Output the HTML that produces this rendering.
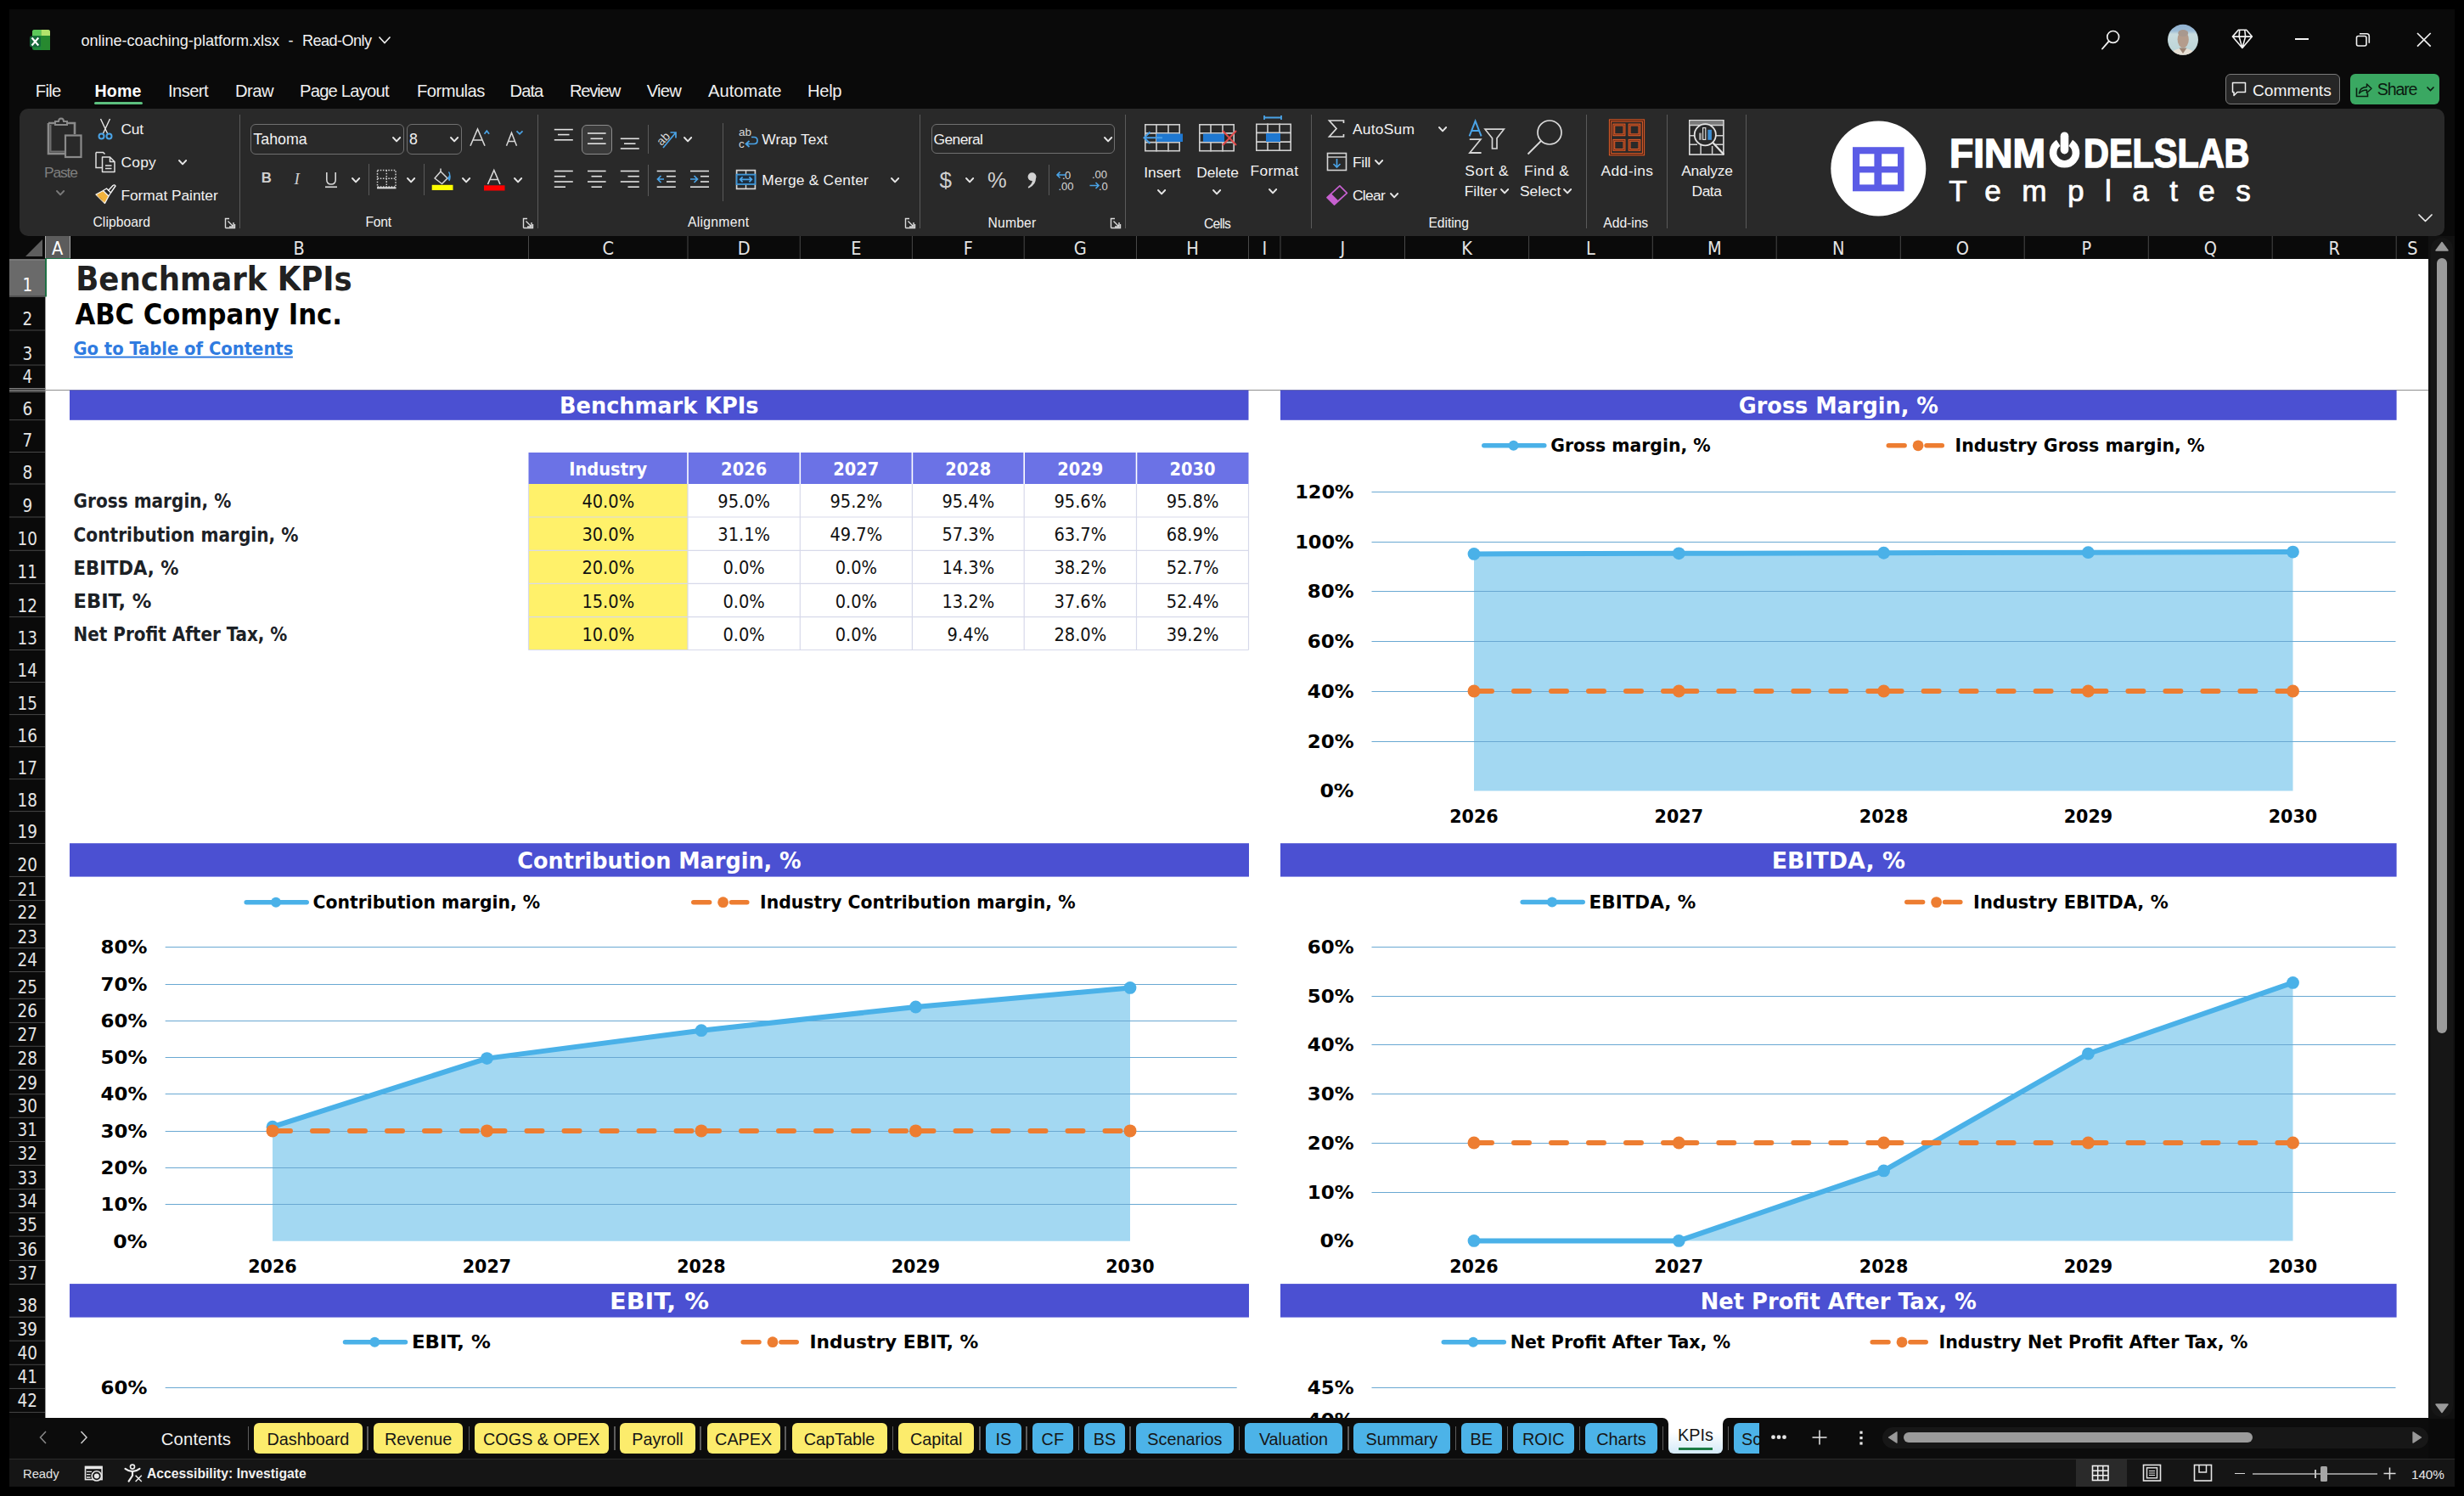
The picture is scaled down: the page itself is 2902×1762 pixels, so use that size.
<!DOCTYPE html>
<html><head><meta charset="utf-8"><title>online-coaching-platform.xlsx - Excel</title>
<style>
*{margin:0;padding:0;box-sizing:border-box}
html,body{width:2902px;height:1762px;overflow:hidden;background:#000}
.b{position:absolute;display:block}
.t{position:absolute;white-space:nowrap;line-height:1}
.t span{display:inline-block;line-height:1}
.t.c span{transform:translateX(-50%)}
.t.r span{transform:translateX(-100%)}
</style></head>
<body>
<div class="b" style="left:11px;top:11px;width:2880px;height:1740px;background:#0a0a0a;"></div><svg class="b" style="left:33px;top:33px;" width="28" height="28" viewBox="0 0 28 28">
<rect x="5" y="2" width="21" height="24" rx="2.5" fill="#1f8a3b"/>
<path d="M5 9 V4.5 Q5 2 7.5 2 H15.5 V9 Z" fill="#5cc85a"/>
<path d="M15.5 2 H23.5 Q26 2 26 4.5 V9 H15.5 Z" fill="#b4e36b"/>
<rect x="15.5" y="9" width="10.5" height="17" fill="#27892f"/>
<rect x="2" y="9.5" width="13" height="13" rx="2.2" fill="#16693a"/>
<path d="M5.2 12.3 L11.6 19.7 M11.6 12.3 L5.2 19.7" stroke="#fff" stroke-width="2.1" stroke-linecap="square"/>
</svg><div class="t" style="left:95.4px;top:38.61px;font-family:'Liberation Sans', Arial, sans-serif;font-size:18.1px;font-weight:normal;color:#f2f2f2;letter-spacing:-0.02px;"><span>online-coaching-platform.xlsx</span></div><div class="t" style="left:339.5px;top:38.61px;font-family:'Liberation Sans', Arial, sans-serif;font-size:18.1px;font-weight:normal;color:#f2f2f2;"><span>-</span></div><div class="t" style="left:356.0px;top:38.61px;font-family:'Liberation Sans', Arial, sans-serif;font-size:18.1px;font-weight:normal;color:#f2f2f2;letter-spacing:-0.56px;"><span>Read-Only</span></div><svg class="b" style="left:444px;top:40px;" width="18" height="15" viewBox="0 0 18 15"><polyline points="2.5,3.5 9,10.5 15.5,3.5" fill="none" stroke="#f0f0f0" stroke-width="1.6"/></svg><svg class="b" style="left:2470px;top:30px;" width="30" height="32" viewBox="0 0 30 32"><circle cx="18.7" cy="13.4" r="6.9" fill="none" stroke="#f0f0f0" stroke-width="1.7"/>
<line x1="13.7" y1="18.6" x2="6" y2="27.5" stroke="#f0f0f0" stroke-width="1.9" stroke-linecap="round"/></svg><svg class="b" style="left:2552px;top:28px;" width="38" height="38" viewBox="0 0 38 38"><defs><clipPath id="av"><circle cx="19" cy="18.8" r="18"/></clipPath>
<linearGradient id="avbg" x1="0" y1="0" x2="0" y2="1"><stop offset="0" stop-color="#8fb0d0"/><stop offset="0.22" stop-color="#9dbcd6"/><stop offset="0.32" stop-color="#c9dcdf"/><stop offset="1" stop-color="#b9d3d6"/></linearGradient></defs>
<g clip-path="url(#av)"><rect width="38" height="38" fill="url(#avbg)"/>
<ellipse cx="19.2" cy="18.5" rx="6.6" ry="10" fill="#b49c8c"/>
<ellipse cx="19.2" cy="11" rx="6" ry="4" fill="#a8988e"/>
<path d="M3 40 Q5 29 19 29 Q33 29 35 40 Z" fill="#e6dfd4"/>
<path d="M14.5 28.5 L19 35 L23.5 28.5 Z" fill="#9c8474"/></g></svg><svg class="b" style="left:2625px;top:30px;" width="32" height="32" viewBox="0 0 32 32"><path d="M11.3 5.3 H20.7 L27.4 13.1 L15.9 26.5 L4.4 13.1 Z M4.4 13.1 H27.4 M12.7 5.3 L12.1 13.1 L15.9 26.5 L19.6 13.1 L18.8 5.3" fill="none" stroke="#f4f4f4" stroke-width="1.6" stroke-linejoin="round"/></svg><div class="b" style="left:2703px;top:45.3px;width:15.8px;height:1.9px;background:#f4f4f4;"></div><svg class="b" style="left:2772px;top:36px;" width="22" height="22" viewBox="0 0 22 22"><rect x="3.5" y="6.5" width="11.5" height="11.5" rx="2" fill="none" stroke="#f0f0f0" stroke-width="1.6"/>
<path d="M7 3.8 H15.5 Q18.3 3.8 18.3 6.6 V14.8" fill="none" stroke="#f0f0f0" stroke-width="1.6"/></svg><svg class="b" style="left:2844px;top:36px;" width="22" height="22" viewBox="0 0 22 22"><path d="M3 3 L18.7 18.7 M18.7 3 L3 18.7" stroke="#f0f0f0" stroke-width="1.7"/></svg><div class="t" style="left:41.8px;top:97.43px;font-family:'Liberation Sans', Arial, sans-serif;font-size:20.2px;font-weight:normal;color:#f0f0f0;letter-spacing:-0.71px;"><span>File</span></div><div class="t" style="left:111.6px;top:97.94px;font-family:'Liberation Sans', Arial, sans-serif;font-size:19.6px;font-weight:bold;color:#ffffff;letter-spacing:0.10px;"><span>Home</span></div><div class="t" style="left:198.0px;top:97.43px;font-family:'Liberation Sans', Arial, sans-serif;font-size:20.2px;font-weight:normal;color:#f0f0f0;letter-spacing:-0.60px;"><span>Insert</span></div><div class="t" style="left:277.0px;top:97.43px;font-family:'Liberation Sans', Arial, sans-serif;font-size:20.2px;font-weight:normal;color:#f0f0f0;letter-spacing:-0.52px;"><span>Draw</span></div><div class="t" style="left:353.0px;top:97.43px;font-family:'Liberation Sans', Arial, sans-serif;font-size:20.2px;font-weight:normal;color:#f0f0f0;letter-spacing:-0.78px;"><span>Page Layout</span></div><div class="t" style="left:491.0px;top:97.43px;font-family:'Liberation Sans', Arial, sans-serif;font-size:20.2px;font-weight:normal;color:#f0f0f0;letter-spacing:-0.55px;"><span>Formulas</span></div><div class="t" style="left:600.6px;top:97.43px;font-family:'Liberation Sans', Arial, sans-serif;font-size:20.2px;font-weight:normal;color:#f0f0f0;letter-spacing:-0.97px;"><span>Data</span></div><div class="t" style="left:670.9px;top:97.43px;font-family:'Liberation Sans', Arial, sans-serif;font-size:20.2px;font-weight:normal;color:#f0f0f0;letter-spacing:-1.17px;"><span>Review</span></div><div class="t" style="left:761.8px;top:97.43px;font-family:'Liberation Sans', Arial, sans-serif;font-size:20.2px;font-weight:normal;color:#f0f0f0;letter-spacing:-0.81px;"><span>View</span></div><div class="t" style="left:834.0px;top:97.43px;font-family:'Liberation Sans', Arial, sans-serif;font-size:20.2px;font-weight:normal;color:#f0f0f0;letter-spacing:0.01px;"><span>Automate</span></div><div class="t" style="left:951.0px;top:97.43px;font-family:'Liberation Sans', Arial, sans-serif;font-size:20.2px;font-weight:normal;color:#f0f0f0;letter-spacing:-0.34px;"><span>Help</span></div><div class="b" style="left:110.8px;top:120px;width:57.6px;height:3.4px;background:#5cc07f;border-radius:2px"></div><div class="b" style="left:2621.4px;top:87px;width:134.3px;height:36px;background:#262626;border:1.3px solid #7a7a7a;border-radius:6px"></div><svg class="b" style="left:2626px;top:94px;" width="22" height="22" viewBox="0 0 22 22"><path d="M3.5 3.5 H18.5 V14.5 H9 L5 18.5 V14.5 H3.5 Z" fill="none" stroke="#f0f0f0" stroke-width="1.5" stroke-linejoin="round"/></svg><div class="t" style="left:2653.0px;top:96.78px;font-family:'Liberation Sans', Arial, sans-serif;font-size:19.2px;font-weight:normal;color:#f4f4f4;letter-spacing:-0.00px;"><span>Comments</span></div><div class="b" style="left:2768px;top:87px;width:105px;height:36px;background:#3aa862;border-radius:6px"></div><svg class="b" style="left:2772px;top:94px;" width="24" height="24" viewBox="0 0 24 24"><path d="M3.5 9.5 V19.5 H16.5 V16" fill="none" stroke="#0c1f12" stroke-width="1.6"/>
<path d="M6.5 16 Q7.5 8.5 15.5 8.5 V5 L21 10.3 L15.5 15.5 V12 Q10 12 6.5 16 Z" fill="none" stroke="#0c1f12" stroke-width="1.5" stroke-linejoin="round"/></svg><div class="t" style="left:2799.8px;top:96.44px;font-family:'Liberation Sans', Arial, sans-serif;font-size:19.6px;font-weight:normal;color:#0b1a10;letter-spacing:-1.16px;"><span>Share</span></div><svg class="b" style="left:2856px;top:100px;" width="14" height="10" viewBox="0 0 14 10"><polyline points="2.5,2.5 6.5,6.5 10.5,2.5" fill="none" stroke="#0b1a10" stroke-width="1.6"/></svg><div class="b" style="left:23px;top:128px;width:2856px;height:150px;background:#292929;border-radius:10px"></div><svg class="b" style="left:50px;top:136px;" width="52" height="56" viewBox="0 0 52 56">
<path d="M7 9 H14 M30 9 H38 V22" fill="none" stroke="#8a8a8a" stroke-width="2.6"/>
<path d="M7 9 V45 H26" fill="none" stroke="#8a8a8a" stroke-width="2.6"/>
<path d="M9.5 11 V42.5 H26" fill="none" stroke="#6e6e6e" stroke-width="2"/>
<path d="M15 11 V7 H19 Q19 3.5 22 3.5 Q25 3.5 25 7 H29 V11 Z" fill="none" stroke="#8a8a8a" stroke-width="2"/>
<rect x="27" y="23.5" width="18.5" height="25.5" fill="none" stroke="#8a8a8a" stroke-width="2.2"/>
</svg><div class="t" style="left:52.0px;top:194.81px;font-family:'Liberation Sans', Arial, sans-serif;font-size:17.4px;font-weight:normal;color:#7f7f7f;letter-spacing:-1.16px;"><span>Paste</span></div><svg class="b" style="left:65.4px;top:222.5px;" width="12.2" height="8.4" viewBox="0 0 12.2 8.4"><polyline points="2,2 6.1,6.4 10.2,2" fill="none" stroke="#7a7a7a" stroke-width="1.9" stroke-linecap="round" stroke-linejoin="round"/></svg><svg class="b" style="left:113px;top:138px;" width="22" height="28" viewBox="0 0 22 28"><path d="M5.5 2 L13.5 19 M16.5 2 L8.5 19" stroke="#e8e8e8" stroke-width="1.4" fill="none"/>
<circle cx="6.5" cy="22.5" r="3" fill="none" stroke="#4aa3e6" stroke-width="2"/>
<circle cx="15.5" cy="22.5" r="3" fill="none" stroke="#4aa3e6" stroke-width="2"/></svg><div class="t" style="left:142.4px;top:144.21px;font-family:'Liberation Sans', Arial, sans-serif;font-size:17.4px;font-weight:normal;color:#f2f2f2;letter-spacing:-0.13px;"><span>Cut</span></div><svg class="b" style="left:110px;top:177px;" width="28" height="28" viewBox="0 0 28 28"><path d="M3 2.5 H11.5 L13.5 4.5 M3 2.5 V20.5 H10" fill="none" stroke="#e0e0e0" stroke-width="1.5"/>
<path d="M10.5 8 H19.5 L25 13.5 V25.5 H10.5 Z M19.5 8 V13.5 H25" fill="none" stroke="#e0e0e0" stroke-width="1.5" stroke-linejoin="round"/>
<path d="M14 18 H21.5 M14 21.5 H21.5" stroke="#e0e0e0" stroke-width="1.3"/></svg><div class="t" style="left:142.4px;top:183.21px;font-family:'Liberation Sans', Arial, sans-serif;font-size:17.4px;font-weight:normal;color:#f2f2f2;letter-spacing:0.26px;"><span>Copy</span></div><svg class="b" style="left:209.3px;top:187.3px;" width="12.2" height="8.4" viewBox="0 0 12.2 8.4"><polyline points="2,2 6.1,6.4 10.2,2" fill="none" stroke="#e6e6e6" stroke-width="1.9" stroke-linecap="round" stroke-linejoin="round"/></svg><svg class="b" style="left:110px;top:215px;" width="28" height="28" viewBox="0 0 28 28"><path d="M3 14 L11.5 9.5 L18 16 L13.5 24.5 Z" fill="#f2b33d" stroke="#f5f5f5" stroke-width="1.3" stroke-linejoin="round"/>
<path d="M3 14 L9 18 L13.5 24.5 Z" fill="#e09b2a"/>
<path d="M11.5 9.5 L15.5 7 L20.5 12 L18 16" fill="none" stroke="#f5f5f5" stroke-width="1.4" stroke-linejoin="round"/>
<path d="M17.5 9.5 L23 3.5 Q25 2 26 4 L20.5 12" fill="none" stroke="#f5f5f5" stroke-width="1.4" stroke-linejoin="round"/></svg><div class="t" style="left:142.4px;top:221.61px;font-family:'Liberation Sans', Arial, sans-serif;font-size:17.4px;font-weight:normal;color:#f2f2f2;letter-spacing:-0.05px;"><span>Format Painter</span></div><div class="t" style="left:109.5px;top:254.16px;font-family:'Liberation Sans', Arial, sans-serif;font-size:15.7px;font-weight:normal;color:#f2f2f2;letter-spacing:0.04px;"><span>Clipboard</span></div><svg class="b" style="left:264px;top:256px;" width="14" height="14" viewBox="0 0 14 14"><path d="M1.5 12.5 V1.5 H6 M1.5 12.5 H12.5 V8" fill="none" stroke="#dcdcdc" stroke-width="1.4"/>
<path d="M4.5 4.5 L11 11 M11 6 V11 H6" fill="none" stroke="#dcdcdc" stroke-width="1.4"/></svg><div class="b" style="left:281.9px;top:135px;width:1.2px;height:134px;background:#5a5a5a;"></div><div class="b" style="left:295px;top:146.2px;width:180.5px;height:35.5px;background:transparent;border:1.3px solid #707070;border-radius:6px"></div><div class="t" style="left:298.3px;top:155.87px;font-family:'Liberation Sans', Arial, sans-serif;font-size:17.8px;font-weight:normal;color:#f2f2f2;letter-spacing:0.03px;"><span>Tahoma</span></div><svg class="b" style="left:460.9px;top:159.8px;" width="12.2" height="8.4" viewBox="0 0 12.2 8.4"><polyline points="2,2 6.1,6.4 10.2,2" fill="none" stroke="#e6e6e6" stroke-width="1.9" stroke-linecap="round" stroke-linejoin="round"/></svg><div class="b" style="left:479px;top:146.2px;width:64.7px;height:35.5px;background:transparent;border:1.3px solid #707070;border-radius:6px"></div><div class="t" style="left:482.0px;top:155.87px;font-family:'Liberation Sans', Arial, sans-serif;font-size:17.8px;font-weight:normal;color:#f2f2f2;"><span>8</span></div><svg class="b" style="left:529.4px;top:159.8px;" width="12.2" height="8.4" viewBox="0 0 12.2 8.4"><polyline points="2,2 6.1,6.4 10.2,2" fill="none" stroke="#e6e6e6" stroke-width="1.9" stroke-linecap="round" stroke-linejoin="round"/></svg><svg class="b" style="left:550px;top:148px;" width="30" height="28" viewBox="0 0 30 28"><path d="M4 23.8 L12.5 4 L21 23.8 M7.2 17 H17.8" fill="none" stroke="#d8d8d8" stroke-width="1.6"/>
<polyline points="20.5,9.8 23.3,6.2 26.1,9.8" fill="none" stroke="#4aa3e6" stroke-width="1.7"/></svg><svg class="b" style="left:594px;top:150px;" width="26" height="26" viewBox="0 0 26 26"><path d="M2.5 21.8 L8.5 6.4 L14.5 21.8 M4.8 16.4 H12.2" fill="none" stroke="#d8d8d8" stroke-width="1.5"/>
<polyline points="14.5,4.3 18,7.8 21.5,4.3" fill="none" stroke="#4aa3e6" stroke-width="1.7"/></svg><div class="t" style="left:307.8px;top:202.02px;font-family:'Liberation Sans', Arial, sans-serif;font-size:16.8px;font-weight:bold;color:#cfcfcf;"><span>B</span></div><div class="t" style="left:346.5px;top:201.45px;font-family:'Liberation Serif', serif;font-size:19px;font-weight:normal;color:#cfcfcf;"><span><i>I</i></span></div><svg class="b" style="left:381px;top:200px;" width="18" height="24" viewBox="0 0 18 24"><path d="M3.8 3 V11.8 Q3.8 17 9 17 Q14.2 17 14.2 11.8 V3" fill="none" stroke="#d6d6d6" stroke-width="1.6"/><rect x="2" y="19.4" width="14" height="1.7" fill="#d6d6d6"/></svg><svg class="b" style="left:413.4px;top:207.8px;" width="12.2" height="8.4" viewBox="0 0 12.2 8.4"><polyline points="2,2 6.1,6.4 10.2,2" fill="none" stroke="#e6e6e6" stroke-width="1.9" stroke-linecap="round" stroke-linejoin="round"/></svg><div class="b" style="left:433.9px;top:193px;width:1.2px;height:37px;background:#5a5a5a;"></div><svg class="b" style="left:442px;top:198px;" width="27" height="27" viewBox="0 0 27 27"><rect x="2.5" y="2.5" width="21.5" height="19.5" fill="none" stroke="#cfcfcf" stroke-width="1.5" stroke-dasharray="1.6 1.6"/>
<path d="M13.25 2.5 V22 M2.5 12.25 H24" stroke="#cfcfcf" stroke-width="1.5" stroke-dasharray="1.6 1.6"/>
<rect x="2" y="22.3" width="22.5" height="2" fill="#e0e0e0"/></svg><svg class="b" style="left:478.2px;top:207.8px;" width="12.2" height="8.4" viewBox="0 0 12.2 8.4"><polyline points="2,2 6.1,6.4 10.2,2" fill="none" stroke="#e6e6e6" stroke-width="1.9" stroke-linecap="round" stroke-linejoin="round"/></svg><div class="b" style="left:499.0px;top:193px;width:1.2px;height:37px;background:#5a5a5a;"></div><svg class="b" style="left:506px;top:197px;" width="30" height="30" viewBox="0 0 30 30"><path d="M6 13 L13 5 L21 13 L14.5 19.5 Z" fill="none" stroke="#d8d8d8" stroke-width="1.5" stroke-linejoin="round"/>
<path d="M13 5 V1.5" stroke="#d8d8d8" stroke-width="1.5"/>
<path d="M21 13 Q25.5 9 22.5 5.5 Q25.5 11 23 16" fill="#4aa3e6" stroke="#4aa3e6" stroke-width="1.2"/>
<rect x="2.7" y="20.8" width="24.8" height="6.2" fill="#ffff00"/></svg><svg class="b" style="left:542.9px;top:207.8px;" width="12.2" height="8.4" viewBox="0 0 12.2 8.4"><polyline points="2,2 6.1,6.4 10.2,2" fill="none" stroke="#e6e6e6" stroke-width="1.9" stroke-linecap="round" stroke-linejoin="round"/></svg><svg class="b" style="left:568px;top:197.5px;" width="30" height="30" viewBox="0 0 30 30"><path d="M6.5 19 L13.8 2.5 L21 19 M9 13.5 H18.5" fill="none" stroke="#d8d8d8" stroke-width="1.6"/>
<rect x="2" y="20.3" width="24.5" height="6.2" fill="#ff0000"/></svg><svg class="b" style="left:604.1px;top:207.8px;" width="12.2" height="8.4" viewBox="0 0 12.2 8.4"><polyline points="2,2 6.1,6.4 10.2,2" fill="none" stroke="#e6e6e6" stroke-width="1.9" stroke-linecap="round" stroke-linejoin="round"/></svg><div class="t" style="left:430.5px;top:254.16px;font-family:'Liberation Sans', Arial, sans-serif;font-size:15.7px;font-weight:normal;color:#f2f2f2;letter-spacing:-0.23px;"><span>Font</span></div><svg class="b" style="left:615px;top:256px;" width="14" height="14" viewBox="0 0 14 14"><path d="M1.5 12.5 V1.5 H6 M1.5 12.5 H12.5 V8" fill="none" stroke="#dcdcdc" stroke-width="1.4"/>
<path d="M4.5 4.5 L11 11 M11 6 V11 H6" fill="none" stroke="#dcdcdc" stroke-width="1.4"/></svg><div class="b" style="left:633.1px;top:135px;width:1.2px;height:134px;background:#5a5a5a;"></div><svg class="b" style="left:650px;top:148px;" width="28" height="22" viewBox="0 0 28 22"><line x1="2.8" y1="4.6" x2="24.8" y2="4.6" stroke="#e2e2e2" stroke-width="1.6"/><line x1="7" y1="10.6" x2="20.5" y2="10.6" stroke="#e2e2e2" stroke-width="1.6"/><line x1="2.8" y1="16.8" x2="24.8" y2="16.8" stroke="#e2e2e2" stroke-width="1.6"/></svg><div class="b" style="left:685.4px;top:146.5px;width:35.6px;height:35px;background:#3a3a3a;border:1.3px solid #8c8c8c;border-radius:6px"></div><svg class="b" style="left:690px;top:152px;" width="28" height="22" viewBox="0 0 28 22"><line x1="2" y1="5" x2="23.6" y2="5" stroke="#e2e2e2" stroke-width="1.6"/><line x1="5.5" y1="11.3" x2="20" y2="11.3" stroke="#e2e2e2" stroke-width="1.6"/><line x1="2" y1="17.2" x2="23.6" y2="17.2" stroke="#e2e2e2" stroke-width="1.6"/></svg><svg class="b" style="left:728px;top:158px;" width="28" height="22" viewBox="0 0 28 22"><line x1="2.8" y1="5.3" x2="24.8" y2="5.3" stroke="#e2e2e2" stroke-width="1.6"/><line x1="7" y1="11.2" x2="20.5" y2="11.2" stroke="#e2e2e2" stroke-width="1.6"/><line x1="2.8" y1="17" x2="24.8" y2="17" stroke="#e2e2e2" stroke-width="1.6"/></svg><div class="b" style="left:763.0px;top:146.5px;width:1.2px;height:34.5px;background:#5a5a5a;"></div><svg class="b" style="left:770px;top:147px;" width="30" height="30" viewBox="0 0 30 30"><text x="3" y="21" transform="rotate(-45 11 16)" font-family="Liberation Sans" font-size="14" fill="#d8d8d8">ab</text>
<path d="M11 27 L26 9 M19.5 9 H26 V15.5" fill="none" stroke="#4aa3e6" stroke-width="1.7"/></svg><svg class="b" style="left:803.9px;top:159.8px;" width="12.2" height="8.4" viewBox="0 0 12.2 8.4"><polyline points="2,2 6.1,6.4 10.2,2" fill="none" stroke="#e6e6e6" stroke-width="1.9" stroke-linecap="round" stroke-linejoin="round"/></svg><svg class="b" style="left:650px;top:196px;" width="28" height="28" viewBox="0 0 28 28"><line x1="2.8" y1="5.5" x2="24.8" y2="5.5" stroke="#e2e2e2" stroke-width="1.6"/><line x1="2.8" y1="11.7" x2="16" y2="11.7" stroke="#e2e2e2" stroke-width="1.6"/><line x1="2.8" y1="18" x2="24.8" y2="18" stroke="#e2e2e2" stroke-width="1.6"/><line x1="2.8" y1="24.2" x2="16" y2="24.2" stroke="#e2e2e2" stroke-width="1.6"/></svg><svg class="b" style="left:689px;top:196px;" width="28" height="28" viewBox="0 0 28 28"><line x1="3" y1="5.5" x2="24.6" y2="5.5" stroke="#e2e2e2" stroke-width="1.6"/><line x1="7.5" y1="11.7" x2="20" y2="11.7" stroke="#e2e2e2" stroke-width="1.6"/><line x1="3" y1="18" x2="24.6" y2="18" stroke="#e2e2e2" stroke-width="1.6"/><line x1="7.5" y1="24.2" x2="20" y2="24.2" stroke="#e2e2e2" stroke-width="1.6"/></svg><svg class="b" style="left:728px;top:196px;" width="28" height="28" viewBox="0 0 28 28"><line x1="2.8" y1="5.5" x2="24.8" y2="5.5" stroke="#e2e2e2" stroke-width="1.6"/><line x1="11.5" y1="11.7" x2="24.8" y2="11.7" stroke="#e2e2e2" stroke-width="1.6"/><line x1="2.8" y1="18" x2="24.8" y2="18" stroke="#e2e2e2" stroke-width="1.6"/><line x1="11.5" y1="24.2" x2="24.8" y2="24.2" stroke="#e2e2e2" stroke-width="1.6"/></svg><div class="b" style="left:763.0px;top:194px;width:1.2px;height:36.5px;background:#5a5a5a;"></div><svg class="b" style="left:771px;top:196px;" width="28" height="28" viewBox="0 0 28 28"><line x1="2.7" y1="5.5" x2="24.8" y2="5.5" stroke="#e2e2e2" stroke-width="1.6"/><line x1="14" y1="11.7" x2="24.8" y2="11.7" stroke="#e2e2e2" stroke-width="1.6"/><line x1="14" y1="18" x2="24.8" y2="18" stroke="#e2e2e2" stroke-width="1.6"/><line x1="2.7" y1="24.2" x2="24.8" y2="24.2" stroke="#e2e2e2" stroke-width="1.6"/><path d="M11 15 H3.5 M7.5 11 L3.5 15 L7.5 19" fill="none" stroke="#4aa3e6" stroke-width="1.7"/></svg><svg class="b" style="left:811px;top:196px;" width="28" height="28" viewBox="0 0 28 28"><line x1="2" y1="5.5" x2="24" y2="5.5" stroke="#e2e2e2" stroke-width="1.6"/><line x1="14" y1="11.7" x2="24" y2="11.7" stroke="#e2e2e2" stroke-width="1.6"/><line x1="14" y1="18" x2="24" y2="18" stroke="#e2e2e2" stroke-width="1.6"/><line x1="2" y1="24.2" x2="24" y2="24.2" stroke="#e2e2e2" stroke-width="1.6"/><path d="M2 15 H10.5 M6.5 11 L10.5 15 L6.5 19" fill="none" stroke="#4aa3e6" stroke-width="1.7"/></svg><div class="b" style="left:851.1px;top:144.6px;width:1.2px;height:92.4px;background:#5a5a5a;"></div><svg class="b" style="left:868px;top:148px;" width="28" height="30" viewBox="0 0 28 30"><text x="2" y="12" font-family="Liberation Sans" font-size="13.5" fill="#d8d8d8">ab</text>
<text x="2" y="26" font-family="Liberation Sans" font-size="13.5" fill="#d8d8d8">c</text>
<path d="M11 21.5 H20 Q24 21.5 24 17.5 Q24 13.5 20 13.5 H17 M14.5 18 L10.5 21.5 L14.5 25" fill="none" stroke="#4aa3e6" stroke-width="1.7"/></svg><div class="t" style="left:897.3px;top:155.91px;font-family:'Liberation Sans', Arial, sans-serif;font-size:17.4px;font-weight:normal;color:#f2f2f2;letter-spacing:0.00px;"><span>Wrap Text</span></div><svg class="b" style="left:864px;top:198px;" width="28" height="28" viewBox="0 0 28 28"><rect x="3.6" y="2.6" width="21.8" height="21.8" fill="none" stroke="#d8d8d8" stroke-width="1.7"/>
<path d="M14.5 2.6 V7 M14.5 20 V24.4" stroke="#d8d8d8" stroke-width="1.4"/>
<rect x="3.6" y="7.6" width="21.8" height="11.4" fill="#1c2c3c" stroke="#3f97d8" stroke-width="1.8"/>
<path d="M7.6 13.3 H21.4 M10.6 10.3 L7.6 13.3 L10.6 16.3 M18.4 10.3 L21.4 13.3 L18.4 16.3" fill="none" stroke="#4aa3e6" stroke-width="1.7"/></svg><div class="t" style="left:897.3px;top:203.51px;font-family:'Liberation Sans', Arial, sans-serif;font-size:17.4px;font-weight:normal;color:#f2f2f2;letter-spacing:0.22px;"><span>Merge &amp; Center</span></div><svg class="b" style="left:1047.6000000000001px;top:207.8px;" width="12.2" height="8.4" viewBox="0 0 12.2 8.4"><polyline points="2,2 6.1,6.4 10.2,2" fill="none" stroke="#e6e6e6" stroke-width="1.9" stroke-linecap="round" stroke-linejoin="round"/></svg><div class="t" style="left:810.0px;top:254.46px;font-family:'Liberation Sans', Arial, sans-serif;font-size:15.7px;font-weight:normal;color:#f2f2f2;letter-spacing:0.28px;"><span>Alignment</span></div><svg class="b" style="left:1065px;top:256px;" width="14" height="14" viewBox="0 0 14 14"><path d="M1.5 12.5 V1.5 H6 M1.5 12.5 H12.5 V8" fill="none" stroke="#dcdcdc" stroke-width="1.4"/>
<path d="M4.5 4.5 L11 11 M11 6 V11 H6" fill="none" stroke="#dcdcdc" stroke-width="1.4"/></svg><div class="b" style="left:1082.8px;top:135px;width:1.2px;height:134px;background:#5a5a5a;"></div><div class="b" style="left:1096.6px;top:146.4px;width:216.8px;height:35.1px;background:transparent;border:1.3px solid #707070;border-radius:6px"></div><div class="t" style="left:1099.5px;top:156.01px;font-family:'Liberation Sans', Arial, sans-serif;font-size:17.4px;font-weight:normal;color:#f2f2f2;letter-spacing:-0.57px;"><span>General</span></div><svg class="b" style="left:1298.9px;top:159.8px;" width="12.2" height="8.4" viewBox="0 0 12.2 8.4"><polyline points="2,2 6.1,6.4 10.2,2" fill="none" stroke="#e6e6e6" stroke-width="1.9" stroke-linecap="round" stroke-linejoin="round"/></svg><div class="t" style="left:1106.5px;top:199.4px;font-family:'Liberation Sans', Arial, sans-serif;font-size:26px;font-weight:normal;color:#cfcfcf;"><span>$</span></div><svg class="b" style="left:1135.9px;top:207.8px;" width="12.2" height="8.4" viewBox="0 0 12.2 8.4"><polyline points="2,2 6.1,6.4 10.2,2" fill="none" stroke="#e6e6e6" stroke-width="1.9" stroke-linecap="round" stroke-linejoin="round"/></svg><div class="t" style="left:1163.0px;top:199.82px;font-family:'Liberation Sans', Arial, sans-serif;font-size:25.5px;font-weight:normal;color:#cfcfcf;"><span>%</span></div><svg class="b" style="left:1206px;top:199px;" width="18" height="26" viewBox="0 0 18 26"><circle cx="9.5" cy="9.2" r="4.9" fill="#d2d2d2"/><path d="M13.9 10 Q14.6 18.5 5.5 22.8 L4.7 21.2 Q10.2 17.4 9.8 13 Z" fill="#d2d2d2"/></svg><div class="b" style="left:1234.8px;top:194px;width:1.2px;height:36px;background:#5a5a5a;"></div><svg class="b" style="left:1242px;top:197px;" width="30" height="30" viewBox="0 0 30 30"><text x="12" y="14" font-family="Liberation Sans" font-size="13" fill="#d8d8d8">0</text>
<text x="4.5" y="27" font-family="Liberation Sans" font-size="13" fill="#d8d8d8">.00</text>
<text x="9" y="14" font-family="Liberation Sans" font-size="13" fill="#d8d8d8">.</text>
<path d="M14 9 H3 M6.5 5.5 L3 9 L6.5 12.5" fill="none" stroke="#4aa3e6" stroke-width="1.6"/></svg><svg class="b" style="left:1281px;top:197px;" width="30" height="30" viewBox="0 0 30 30"><text x="5" y="13" font-family="Liberation Sans" font-size="13" fill="#d8d8d8">.00</text>
<text x="13" y="27" font-family="Liberation Sans" font-size="13" fill="#d8d8d8">.0</text>
<path d="M2.5 21.5 H13 M9.5 18 L13 21.5 L9.5 25" fill="none" stroke="#4aa3e6" stroke-width="1.6"/></svg><div class="t" style="left:1163.4px;top:254.85px;font-family:'Liberation Sans', Arial, sans-serif;font-size:15.7px;font-weight:normal;color:#f2f2f2;letter-spacing:0.22px;"><span>Number</span></div><svg class="b" style="left:1307px;top:256px;" width="14" height="14" viewBox="0 0 14 14"><path d="M1.5 12.5 V1.5 H6 M1.5 12.5 H12.5 V8" fill="none" stroke="#dcdcdc" stroke-width="1.4"/>
<path d="M4.5 4.5 L11 11 M11 6 V11 H6" fill="none" stroke="#dcdcdc" stroke-width="1.4"/></svg><div class="b" style="left:1325.0px;top:135px;width:1.2px;height:134px;background:#5a5a5a;"></div><svg class="b" style="left:1345px;top:145.5px;" width="48" height="33" viewBox="0 0 48 33"><g transform="translate(3,0)"><rect x="0.8" y="0.8" width="40.4" height="30.9" fill="none" stroke="#cfcfcf" stroke-width="1.6"/><line x1="14.0" y1="0" x2="14.0" y2="32.5" stroke="#cfcfcf" stroke-width="1.6"/><line x1="0" y1="10.833333333333334" x2="42" y2="10.833333333333334" stroke="#cfcfcf" stroke-width="1.6"/><line x1="28.0" y1="0" x2="28.0" y2="32.5" stroke="#cfcfcf" stroke-width="1.6"/><line x1="0" y1="21.666666666666668" x2="42" y2="21.666666666666668" stroke="#cfcfcf" stroke-width="1.6"/></g>
<rect x="17" y="11.5" width="31" height="9.5" fill="#1f78d1"/>
<path d="M24 16.2 H2.5 M9.5 9.5 L2.5 16.2 L9.5 23" fill="none" stroke="#4a9fe6" stroke-width="2"/></svg><div class="t" style="left:1347.3px;top:194.91px;font-family:'Liberation Sans', Arial, sans-serif;font-size:17.4px;font-weight:normal;color:#f2f2f2;letter-spacing:-0.02px;"><span>Insert</span></div><svg class="b" style="left:1362.2px;top:222.10000000000002px;" width="12.2" height="8.4" viewBox="0 0 12.2 8.4"><polyline points="2,2 6.1,6.4 10.2,2" fill="none" stroke="#e6e6e6" stroke-width="1.9" stroke-linecap="round" stroke-linejoin="round"/></svg><svg class="b" style="left:1412px;top:145.5px;" width="46" height="33" viewBox="0 0 46 33"><rect x="0.8" y="0.8" width="40.4" height="30.9" fill="none" stroke="#cfcfcf" stroke-width="1.6"/><line x1="14.0" y1="0" x2="14.0" y2="32.5" stroke="#cfcfcf" stroke-width="1.6"/><line x1="0" y1="10.833333333333334" x2="42" y2="10.833333333333334" stroke="#cfcfcf" stroke-width="1.6"/><line x1="28.0" y1="0" x2="28.0" y2="32.5" stroke="#cfcfcf" stroke-width="1.6"/><line x1="0" y1="21.666666666666668" x2="42" y2="21.666666666666668" stroke="#cfcfcf" stroke-width="1.6"/>
<rect x="5" y="11.5" width="25" height="9.5" fill="#1f78d1"/>
<path d="M28 8 L44 25 M44 8 L28 25" stroke="#e04a4a" stroke-width="2"/></svg><div class="t" style="left:1409.2px;top:194.91px;font-family:'Liberation Sans', Arial, sans-serif;font-size:17.4px;font-weight:normal;color:#f2f2f2;letter-spacing:-0.10px;"><span>Delete</span></div><svg class="b" style="left:1426.9px;top:222.10000000000002px;" width="12.2" height="8.4" viewBox="0 0 12.2 8.4"><polyline points="2,2 6.1,6.4 10.2,2" fill="none" stroke="#e6e6e6" stroke-width="1.9" stroke-linecap="round" stroke-linejoin="round"/></svg><svg class="b" style="left:1478px;top:136px;" width="44" height="43" viewBox="0 0 44 43"><g transform="translate(1,9.5)"><rect x="0.8" y="0.8" width="40.4" height="30.9" fill="none" stroke="#cfcfcf" stroke-width="1.6"/><line x1="14.0" y1="0" x2="14.0" y2="32.5" stroke="#cfcfcf" stroke-width="1.6"/><line x1="0" y1="10.833333333333334" x2="42" y2="10.833333333333334" stroke="#cfcfcf" stroke-width="1.6"/><line x1="28.0" y1="0" x2="28.0" y2="32.5" stroke="#cfcfcf" stroke-width="1.6"/><line x1="0" y1="21.666666666666668" x2="42" y2="21.666666666666668" stroke="#cfcfcf" stroke-width="1.6"/></g>
<rect x="13" y="21" width="17" height="10" fill="#1f78d1"/>
<path d="M11 2.5 H31 M11 0 V5 M31 0 V5" stroke="#4aa3e6" stroke-width="1.8"/></svg><div class="t" style="left:1472.6px;top:193.01px;font-family:'Liberation Sans', Arial, sans-serif;font-size:17.4px;font-weight:normal;color:#f2f2f2;letter-spacing:0.27px;"><span>Format</span></div><svg class="b" style="left:1493.1000000000001px;top:220.5px;" width="12.2" height="8.4" viewBox="0 0 12.2 8.4"><polyline points="2,2 6.1,6.4 10.2,2" fill="none" stroke="#e6e6e6" stroke-width="1.9" stroke-linecap="round" stroke-linejoin="round"/></svg><div class="t" style="left:1418.0px;top:255.66px;font-family:'Liberation Sans', Arial, sans-serif;font-size:15.7px;font-weight:normal;color:#f2f2f2;letter-spacing:-0.73px;"><span>Cells</span></div><div class="b" style="left:1544.1px;top:135px;width:1.2px;height:134px;background:#5a5a5a;"></div><svg class="b" style="left:1562px;top:139px;" width="26" height="26" viewBox="0 0 26 26"><path d="M20.5 6 V3 H3.5 L12 12.5 L3.5 22 H20.5 V19" fill="none" stroke="#dcdcdc" stroke-width="1.7" stroke-linejoin="miter"/></svg><div class="t" style="left:1593.0px;top:144.21px;font-family:'Liberation Sans', Arial, sans-serif;font-size:17.4px;font-weight:normal;color:#f2f2f2;letter-spacing:0.23px;"><span>AutoSum</span></div><svg class="b" style="left:1692.9px;top:147.8px;" width="12.2" height="8.4" viewBox="0 0 12.2 8.4"><polyline points="2,2 6.1,6.4 10.2,2" fill="none" stroke="#e6e6e6" stroke-width="1.9" stroke-linecap="round" stroke-linejoin="round"/></svg><svg class="b" style="left:1561px;top:178px;" width="28" height="26" viewBox="0 0 28 26"><rect x="2.5" y="2.5" width="22" height="20" fill="none" stroke="#d6d6d6" stroke-width="1.6"/>
<line x1="2.5" y1="7" x2="24.5" y2="7" stroke="#d6d6d6" stroke-width="1.4"/>
<path d="M13.5 9 V19 M9.5 15 L13.5 19 L17.5 15" fill="none" stroke="#4aa3e6" stroke-width="1.7"/></svg><div class="t" style="left:1593.0px;top:183.21px;font-family:'Liberation Sans', Arial, sans-serif;font-size:17.4px;font-weight:normal;color:#f2f2f2;letter-spacing:-0.29px;"><span>Fill</span></div><svg class="b" style="left:1617.9px;top:187.3px;" width="12.2" height="8.4" viewBox="0 0 12.2 8.4"><polyline points="2,2 6.1,6.4 10.2,2" fill="none" stroke="#e6e6e6" stroke-width="1.9" stroke-linecap="round" stroke-linejoin="round"/></svg><svg class="b" style="left:1561px;top:217px;" width="28" height="26" viewBox="0 0 28 26"><path d="M16.9 1.9 L25.4 10.4 L10.4 24 L2 15.6 Z" fill="none" stroke="#c660cf" stroke-width="1.7" stroke-linejoin="round"/>
<path d="M2 15.6 L6.9 11.1 L15.4 19.5 L10.4 24 Z" fill="#c660cf"/></svg><div class="t" style="left:1593.0px;top:222.21px;font-family:'Liberation Sans', Arial, sans-serif;font-size:17.4px;font-weight:normal;color:#f2f2f2;letter-spacing:-0.70px;"><span>Clear</span></div><svg class="b" style="left:1636.4px;top:226.3px;" width="12.2" height="8.4" viewBox="0 0 12.2 8.4"><polyline points="2,2 6.1,6.4 10.2,2" fill="none" stroke="#e6e6e6" stroke-width="1.9" stroke-linecap="round" stroke-linejoin="round"/></svg><svg class="b" style="left:1728px;top:140px;" width="48" height="44" viewBox="0 0 48 44"><path d="M2.6 20.3 L9.6 2.6 L16.6 20.3 M5.2 14 H14" fill="none" stroke="#4aa3e6" stroke-width="2"/>
<path d="M2.8 24.2 H15.8 L3 40 H16.6" fill="none" stroke="#d6d6d6" stroke-width="1.8"/>
<path d="M21 12.2 H43.3 L35 22.8 V35 H29.5 V22.8 Z" fill="none" stroke="#d6d6d6" stroke-width="1.7" stroke-linejoin="miter"/></svg><div class="t" style="left:1725.3px;top:192.91px;font-family:'Liberation Sans', Arial, sans-serif;font-size:17.4px;font-weight:normal;color:#f2f2f2;letter-spacing:0.59px;"><span>Sort &amp;</span></div><div class="t" style="left:1724.7px;top:217.21px;font-family:'Liberation Sans', Arial, sans-serif;font-size:17.4px;font-weight:normal;color:#f2f2f2;"><span>Filter</span></div><svg class="b" style="left:1766.4px;top:221.3px;" width="12.2" height="8.4" viewBox="0 0 12.2 8.4"><polyline points="2,2 6.1,6.4 10.2,2" fill="none" stroke="#e6e6e6" stroke-width="1.9" stroke-linecap="round" stroke-linejoin="round"/></svg><svg class="b" style="left:1796px;top:139px;" width="48" height="48" viewBox="0 0 48 48"><circle cx="29" cy="17" r="14" fill="none" stroke="#dcdcdc" stroke-width="1.7"/>
<line x1="19" y1="27" x2="3.5" y2="42.5" stroke="#dcdcdc" stroke-width="1.8"/></svg><div class="t" style="left:1795.0px;top:192.91px;font-family:'Liberation Sans', Arial, sans-serif;font-size:17.4px;font-weight:normal;color:#f2f2f2;letter-spacing:0.54px;"><span>Find &amp;</span></div><div class="t" style="left:1790.0px;top:217.21px;font-family:'Liberation Sans', Arial, sans-serif;font-size:17.4px;font-weight:normal;color:#f2f2f2;"><span>Select</span></div><svg class="b" style="left:1840.4px;top:221.3px;" width="12.2" height="8.4" viewBox="0 0 12.2 8.4"><polyline points="2,2 6.1,6.4 10.2,2" fill="none" stroke="#e6e6e6" stroke-width="1.9" stroke-linecap="round" stroke-linejoin="round"/></svg><div class="t" style="left:1682.5px;top:255.35px;font-family:'Liberation Sans', Arial, sans-serif;font-size:15.7px;font-weight:normal;color:#f2f2f2;letter-spacing:-0.09px;"><span>Editing</span></div><div class="b" style="left:1867.7px;top:135px;width:1.2px;height:134px;background:#5a5a5a;"></div><svg class="b" style="left:1890px;top:136px;" width="52" height="52" viewBox="0 0 52 52"><rect x="6.50" y="6.00" width="39.00" height="39.70" fill="none" stroke="#4a1e12" stroke-width="3.4"/><rect x="5.40" y="4.90" width="41.20" height="41.90" fill="none" stroke="#dd5f2c" stroke-width="1.0"/><rect x="7.60" y="7.10" width="36.80" height="37.50" fill="none" stroke="#dd5f2c" stroke-width="1.0"/><rect x="10.80" y="11.00" width="12.20" height="11.80" fill="none" stroke="#5e2616" stroke-width="3.0"/><rect x="9.90" y="10.10" width="14.00" height="13.60" fill="none" stroke="#dd5f2c" stroke-width="1.0"/><rect x="11.70" y="11.90" width="10.40" height="10.00" fill="none" stroke="#dd5f2c" stroke-width="1.0"/><rect x="29.10" y="11.00" width="11.80" height="11.80" fill="none" stroke="#5e2616" stroke-width="3.0"/><rect x="28.20" y="10.10" width="13.60" height="13.60" fill="none" stroke="#dd5f2c" stroke-width="1.0"/><rect x="30.00" y="11.90" width="10.00" height="10.00" fill="none" stroke="#dd5f2c" stroke-width="1.0"/><rect x="10.80" y="29.30" width="12.20" height="11.10" fill="none" stroke="#5e2616" stroke-width="3.0"/><rect x="9.90" y="28.40" width="14.00" height="12.90" fill="none" stroke="#dd5f2c" stroke-width="1.0"/><rect x="11.70" y="30.20" width="10.40" height="9.30" fill="none" stroke="#dd5f2c" stroke-width="1.0"/><rect x="29.10" y="29.30" width="11.80" height="11.10" fill="none" stroke="#5e2616" stroke-width="3.0"/><rect x="28.20" y="28.40" width="13.60" height="12.90" fill="none" stroke="#dd5f2c" stroke-width="1.0"/><rect x="30.00" y="30.20" width="10.00" height="9.30" fill="none" stroke="#dd5f2c" stroke-width="1.0"/></svg><div class="t" style="left:1885.4px;top:192.91px;font-family:'Liberation Sans', Arial, sans-serif;font-size:17.4px;font-weight:normal;color:#f2f2f2;letter-spacing:0.44px;"><span>Add-ins</span></div><div class="t" style="left:1888.3px;top:255.35px;font-family:'Liberation Sans', Arial, sans-serif;font-size:15.7px;font-weight:normal;color:#f2f2f2;letter-spacing:-0.05px;"><span>Add-ins</span></div><div class="b" style="left:1962.8px;top:135px;width:1.2px;height:134px;background:#5a5a5a;"></div><svg class="b" style="left:1986px;top:138px;" width="50" height="50" viewBox="0 0 50 50"><rect x="3.7999999999999545" y="3.8000000000000114" width="40.1" height="40.2" fill="none" stroke="#dedede" stroke-width="1.6"/>
<rect x="4.599999999999909" y="4.599999999999994" width="38.5" height="4.4" fill="#7a7a7a"/>
<path d="M3.8 9.6 H44 M3.8 21.7 H10 M35.0 21.7 H44 M3.8 32.2 H13 M33.0 32.2 H44 M17.1 33.0 V44 M30.6 34.0 V44" stroke="#d0d0d0" stroke-width="1.5"/>
<circle cx="22.299999999999955" cy="20.80000000000001" r="12.6" fill="#292929" stroke="#e4e4e4" stroke-width="1.8"/>
<line x1="31.299999999999955" y1="29.900000000000006" x2="44.299999999999955" y2="44" stroke="#e4e4e4" stroke-width="2.2"/>
<rect x="15" y="18.599999999999994" width="3" height="8.2" fill="#9a9a9a"/>
<rect x="19.59999999999991" y="12.599999999999994" width="3.2" height="13.8" fill="none" stroke="#e8e8e8" stroke-width="1.1"/>
<rect x="25.40000000000009" y="14.800000000000011" width="4.5" height="12" fill="#3d8fd6"/></svg><div class="t" style="left:1980.2px;top:192.91px;font-family:'Liberation Sans', Arial, sans-serif;font-size:17.4px;font-weight:normal;color:#f2f2f2;letter-spacing:-0.19px;"><span>Analyze</span></div><div class="t" style="left:1992.5px;top:217.21px;font-family:'Liberation Sans', Arial, sans-serif;font-size:17.4px;font-weight:normal;color:#f2f2f2;letter-spacing:-0.43px;"><span>Data</span></div><div class="b" style="left:2056.0px;top:135px;width:1.2px;height:134px;background:#5a5a5a;"></div><svg class="b" style="left:2155px;top:141px;" width="115" height="115" viewBox="0 0 115 115"><circle cx="57.3" cy="57.6" r="56" fill="#ffffff"/>
<rect x="27" y="32.2" width="60.6" height="52.1" fill="#5b5ce6"/>
<rect x="35.2" y="40.3" width="17.2" height="14.7" fill="#fff"/>
<rect x="61.2" y="40.3" width="18.8" height="14.7" fill="#fff"/>
<rect x="35.2" y="62.4" width="17.2" height="14" fill="#fff"/>
<rect x="61.2" y="62.4" width="18.8" height="14" fill="#fff"/></svg><div class="t" style="left:2295.8px;top:156.14px;font-family:'Liberation Sans', Arial, sans-serif;font-size:48.3px;font-weight:bold;color:#ffffff;transform:scaleX(0.958);transform-origin:0 0;-webkit-text-stroke:1.6px #fff"><span>FINM</span></div><div class="t" style="left:2453.6px;top:156.14px;font-family:'Liberation Sans', Arial, sans-serif;font-size:48.3px;font-weight:bold;color:#ffffff;transform:scaleX(0.857);transform-origin:0 0;-webkit-text-stroke:1.6px #fff"><span>DELSLAB</span></div><svg class="b" style="left:2410px;top:150px;" width="44" height="52" viewBox="0 0 44 52"><path d="M14.3 18.44 A13.45 13.45 0 1 0 28.7 18.44" fill="none" stroke="#fff" stroke-width="8.7"/>
<line x1="21.5" y1="10.2" x2="21.5" y2="26.6" stroke="#fff" stroke-width="9.6" stroke-linecap="round"/></svg><div class="t" style="left:2295.3px;top:206.88px;font-family:'Liberation Sans', Arial, sans-serif;font-size:35.2px;font-weight:normal;color:#ffffff;letter-spacing:24.4px;-webkit-text-stroke:0.7px #fff"><span>Templates</span></div><svg class="b" style="left:2847.3px;top:251.25px;" width="19" height="11.5" viewBox="0 0 19 11.5"><polyline points="2,2 9.5,9.5 17,2" fill="none" stroke="#e8e8e8" stroke-width="1.7" stroke-linecap="round" stroke-linejoin="round"/></svg><div class="b" style="left:11px;top:278px;width:2849px;height:27px;background:#0a0a0a;"></div><svg class="b" style="left:28px;top:280px;" width="24" height="24" viewBox="0 0 24 24"><path d="M22 2 V22 H2 Z" fill="#5e5e5e"/></svg><div class="b" style="left:53px;top:278px;width:29.5px;height:27px;background:#5c5c5c;"></div><div class="b" style="left:53px;top:278px;width:1px;height:27px;background:#a8a8a8;"></div><div class="b" style="left:81.5px;top:278px;width:1px;height:27px;background:#a8a8a8;"></div><svg class="b" style="left:0px;top:0px;position:absolute" width="2860" height="310" viewBox="0 0 2860 310"><line x1="622.5" y1="278" x2="622.5" y2="305" stroke="#484848" stroke-width="1"/><line x1="810" y1="278" x2="810" y2="305" stroke="#484848" stroke-width="1"/><line x1="942.3" y1="278" x2="942.3" y2="305" stroke="#484848" stroke-width="1"/><line x1="1074.4" y1="278" x2="1074.4" y2="305" stroke="#484848" stroke-width="1"/><line x1="1206.2" y1="278" x2="1206.2" y2="305" stroke="#484848" stroke-width="1"/><line x1="1338.5" y1="278" x2="1338.5" y2="305" stroke="#484848" stroke-width="1"/><line x1="1470.5" y1="278" x2="1470.5" y2="305" stroke="#484848" stroke-width="1"/><line x1="1508" y1="278" x2="1508" y2="305" stroke="#484848" stroke-width="1"/><line x1="1654.5" y1="278" x2="1654.5" y2="305" stroke="#484848" stroke-width="1"/><line x1="1800.6" y1="278" x2="1800.6" y2="305" stroke="#484848" stroke-width="1"/><line x1="1946.3" y1="278" x2="1946.3" y2="305" stroke="#484848" stroke-width="1"/><line x1="2092.2" y1="278" x2="2092.2" y2="305" stroke="#484848" stroke-width="1"/><line x1="2238.3" y1="278" x2="2238.3" y2="305" stroke="#484848" stroke-width="1"/><line x1="2384.2" y1="278" x2="2384.2" y2="305" stroke="#484848" stroke-width="1"/><line x1="2530.3" y1="278" x2="2530.3" y2="305" stroke="#484848" stroke-width="1"/><line x1="2676.2" y1="278" x2="2676.2" y2="305" stroke="#484848" stroke-width="1"/><line x1="2822.2" y1="278" x2="2822.2" y2="305" stroke="#484848" stroke-width="1"/><line x1="2868.2" y1="278" x2="2868.2" y2="305" stroke="#484848" stroke-width="1"/></svg><div class="t c" style="left:67.5px;top:281.53px;font-family:'DejaVu Sans Condensed', 'DejaVu Sans', sans-serif;font-size:21.5px;font-weight:normal;color:#ffffff;"><span>A</span></div><div class="t c" style="left:352.25px;top:281.53px;font-family:'DejaVu Sans Condensed', 'DejaVu Sans', sans-serif;font-size:21.5px;font-weight:normal;color:#e4e4e4;"><span>B</span></div><div class="t c" style="left:716.25px;top:281.53px;font-family:'DejaVu Sans Condensed', 'DejaVu Sans', sans-serif;font-size:21.5px;font-weight:normal;color:#e4e4e4;"><span>C</span></div><div class="t c" style="left:876.15px;top:281.53px;font-family:'DejaVu Sans Condensed', 'DejaVu Sans', sans-serif;font-size:21.5px;font-weight:normal;color:#e4e4e4;"><span>D</span></div><div class="t c" style="left:1008.35px;top:281.53px;font-family:'DejaVu Sans Condensed', 'DejaVu Sans', sans-serif;font-size:21.5px;font-weight:normal;color:#e4e4e4;"><span>E</span></div><div class="t c" style="left:1140.3000000000002px;top:281.53px;font-family:'DejaVu Sans Condensed', 'DejaVu Sans', sans-serif;font-size:21.5px;font-weight:normal;color:#e4e4e4;"><span>F</span></div><div class="t c" style="left:1272.35px;top:281.53px;font-family:'DejaVu Sans Condensed', 'DejaVu Sans', sans-serif;font-size:21.5px;font-weight:normal;color:#e4e4e4;"><span>G</span></div><div class="t c" style="left:1404.5px;top:281.53px;font-family:'DejaVu Sans Condensed', 'DejaVu Sans', sans-serif;font-size:21.5px;font-weight:normal;color:#e4e4e4;"><span>H</span></div><div class="t c" style="left:1489.25px;top:281.53px;font-family:'DejaVu Sans Condensed', 'DejaVu Sans', sans-serif;font-size:21.5px;font-weight:normal;color:#e4e4e4;"><span>I</span></div><div class="t c" style="left:1581.25px;top:281.53px;font-family:'DejaVu Sans Condensed', 'DejaVu Sans', sans-serif;font-size:21.5px;font-weight:normal;color:#e4e4e4;"><span>J</span></div><div class="t c" style="left:1727.55px;top:281.53px;font-family:'DejaVu Sans Condensed', 'DejaVu Sans', sans-serif;font-size:21.5px;font-weight:normal;color:#e4e4e4;"><span>K</span></div><div class="t c" style="left:1873.4499999999998px;top:281.53px;font-family:'DejaVu Sans Condensed', 'DejaVu Sans', sans-serif;font-size:21.5px;font-weight:normal;color:#e4e4e4;"><span>L</span></div><div class="t c" style="left:2019.25px;top:281.53px;font-family:'DejaVu Sans Condensed', 'DejaVu Sans', sans-serif;font-size:21.5px;font-weight:normal;color:#e4e4e4;"><span>M</span></div><div class="t c" style="left:2165.25px;top:281.53px;font-family:'DejaVu Sans Condensed', 'DejaVu Sans', sans-serif;font-size:21.5px;font-weight:normal;color:#e4e4e4;"><span>N</span></div><div class="t c" style="left:2311.25px;top:281.53px;font-family:'DejaVu Sans Condensed', 'DejaVu Sans', sans-serif;font-size:21.5px;font-weight:normal;color:#e4e4e4;"><span>O</span></div><div class="t c" style="left:2457.25px;top:281.53px;font-family:'DejaVu Sans Condensed', 'DejaVu Sans', sans-serif;font-size:21.5px;font-weight:normal;color:#e4e4e4;"><span>P</span></div><div class="t c" style="left:2603.25px;top:281.53px;font-family:'DejaVu Sans Condensed', 'DejaVu Sans', sans-serif;font-size:21.5px;font-weight:normal;color:#e4e4e4;"><span>Q</span></div><div class="t c" style="left:2749.2px;top:281.53px;font-family:'DejaVu Sans Condensed', 'DejaVu Sans', sans-serif;font-size:21.5px;font-weight:normal;color:#e4e4e4;"><span>R</span></div><div class="t c" style="left:2841.5px;top:281.53px;font-family:'DejaVu Sans Condensed', 'DejaVu Sans', sans-serif;font-size:21.5px;font-weight:normal;color:#e4e4e4;"><span>S</span></div><div class="b" style="left:53px;top:303.6px;width:29.5px;height:2.4px;background:#1e7145;"></div><div class="b" style="left:11px;top:305px;width:42px;height:1365px;background:#0a0a0a;"></div><div class="b" style="left:11px;top:305.8px;width:41.5px;height:42.6px;background:#6a6a6a;"></div><svg class="b" style="left:0px;top:300px;" width="60" height="1372" viewBox="0 0 60 1372"><g transform="translate(0,-300)"><line x1="11" y1="349" x2="53" y2="349" stroke="#9a9a9a" stroke-width="1"/><line x1="11" y1="389" x2="53" y2="389" stroke="#474747" stroke-width="1"/><line x1="11" y1="430" x2="53" y2="430" stroke="#474747" stroke-width="1"/><line x1="11" y1="457.5" x2="53" y2="457.5" stroke="#474747" stroke-width="1"/><line x1="11" y1="494.6" x2="53" y2="494.6" stroke="#474747" stroke-width="1"/><line x1="11" y1="532.5" x2="53" y2="532.5" stroke="#474747" stroke-width="1"/><line x1="11" y1="570" x2="53" y2="570" stroke="#474747" stroke-width="1"/><line x1="11" y1="609" x2="53" y2="609" stroke="#474747" stroke-width="1"/><line x1="11" y1="648.3" x2="53" y2="648.3" stroke="#474747" stroke-width="1"/><line x1="11" y1="687.4" x2="53" y2="687.4" stroke="#474747" stroke-width="1"/><line x1="11" y1="726.6" x2="53" y2="726.6" stroke="#474747" stroke-width="1"/><line x1="11" y1="765.5" x2="53" y2="765.5" stroke="#474747" stroke-width="1"/><line x1="11" y1="803.5" x2="53" y2="803.5" stroke="#474747" stroke-width="1"/><line x1="11" y1="841.6" x2="53" y2="841.6" stroke="#474747" stroke-width="1"/><line x1="11" y1="879.6" x2="53" y2="879.6" stroke="#474747" stroke-width="1"/><line x1="11" y1="917.6" x2="53" y2="917.6" stroke="#474747" stroke-width="1"/><line x1="11" y1="955.6" x2="53" y2="955.6" stroke="#474747" stroke-width="1"/><line x1="11" y1="993.4" x2="53" y2="993.4" stroke="#474747" stroke-width="1"/><line x1="11" y1="1032.4" x2="53" y2="1032.4" stroke="#474747" stroke-width="1"/><line x1="11" y1="1060.6" x2="53" y2="1060.6" stroke="#474747" stroke-width="1"/><line x1="11" y1="1088.4" x2="53" y2="1088.4" stroke="#474747" stroke-width="1"/><line x1="11" y1="1116.6" x2="53" y2="1116.6" stroke="#474747" stroke-width="1"/><line x1="11" y1="1144.5" x2="53" y2="1144.5" stroke="#474747" stroke-width="1"/><line x1="11" y1="1176.3" x2="53" y2="1176.3" stroke="#474747" stroke-width="1"/><line x1="11" y1="1204.4" x2="53" y2="1204.4" stroke="#474747" stroke-width="1"/><line x1="11" y1="1232.3" x2="53" y2="1232.3" stroke="#474747" stroke-width="1"/><line x1="11" y1="1260.3" x2="53" y2="1260.3" stroke="#474747" stroke-width="1"/><line x1="11" y1="1288.7" x2="53" y2="1288.7" stroke="#474747" stroke-width="1"/><line x1="11" y1="1316.3" x2="53" y2="1316.3" stroke="#474747" stroke-width="1"/><line x1="11" y1="1344.5" x2="53" y2="1344.5" stroke="#474747" stroke-width="1"/><line x1="11" y1="1372.4" x2="53" y2="1372.4" stroke="#474747" stroke-width="1"/><line x1="11" y1="1400.6" x2="53" y2="1400.6" stroke="#474747" stroke-width="1"/><line x1="11" y1="1428.4" x2="53" y2="1428.4" stroke="#474747" stroke-width="1"/><line x1="11" y1="1456.1" x2="53" y2="1456.1" stroke="#474747" stroke-width="1"/><line x1="11" y1="1484.6" x2="53" y2="1484.6" stroke="#474747" stroke-width="1"/><line x1="11" y1="1512.6" x2="53" y2="1512.6" stroke="#474747" stroke-width="1"/><line x1="11" y1="1551.2" x2="53" y2="1551.2" stroke="#474747" stroke-width="1"/><line x1="11" y1="1579.2" x2="53" y2="1579.2" stroke="#474747" stroke-width="1"/><line x1="11" y1="1607.3" x2="53" y2="1607.3" stroke="#474747" stroke-width="1"/><line x1="11" y1="1635.4" x2="53" y2="1635.4" stroke="#474747" stroke-width="1"/><line x1="11" y1="1663.4" x2="53" y2="1663.4" stroke="#474747" stroke-width="1"/><line x1="11" y1="305.8" x2="53" y2="305.8" stroke="#a0a0a0" stroke-width="1"/><line x1="11" y1="459.5" x2="53" y2="459.5" stroke="#b0b0b0" stroke-width="1.2"/><line x1="11" y1="461.4" x2="53" y2="461.4" stroke="#8a8a8a" stroke-width="1"/><line x1="11" y1="457.5" x2="53" y2="457.5" stroke="#8a8a8a" stroke-width="1"/></g></svg><div class="t c" style="left:32.3px;top:325.97px;font-family:'DejaVu Sans Condensed', 'DejaVu Sans', sans-serif;font-size:20.5px;font-weight:normal;color:#ffffff;"><span>1</span></div><div class="t c" style="left:32.3px;top:365.97px;font-family:'DejaVu Sans Condensed', 'DejaVu Sans', sans-serif;font-size:20.5px;font-weight:normal;color:#e4e4e4;"><span>2</span></div><div class="t c" style="left:32.3px;top:406.97px;font-family:'DejaVu Sans Condensed', 'DejaVu Sans', sans-serif;font-size:20.5px;font-weight:normal;color:#e4e4e4;"><span>3</span></div><div class="t c" style="left:32.3px;top:434.47px;font-family:'DejaVu Sans Condensed', 'DejaVu Sans', sans-serif;font-size:20.5px;font-weight:normal;color:#e4e4e4;"><span>4</span></div><div class="t c" style="left:32.3px;top:471.57px;font-family:'DejaVu Sans Condensed', 'DejaVu Sans', sans-serif;font-size:20.5px;font-weight:normal;color:#e4e4e4;"><span>6</span></div><div class="t c" style="left:32.3px;top:509.47px;font-family:'DejaVu Sans Condensed', 'DejaVu Sans', sans-serif;font-size:20.5px;font-weight:normal;color:#e4e4e4;"><span>7</span></div><div class="t c" style="left:32.3px;top:546.98px;font-family:'DejaVu Sans Condensed', 'DejaVu Sans', sans-serif;font-size:20.5px;font-weight:normal;color:#e4e4e4;"><span>8</span></div><div class="t c" style="left:32.3px;top:585.98px;font-family:'DejaVu Sans Condensed', 'DejaVu Sans', sans-serif;font-size:20.5px;font-weight:normal;color:#e4e4e4;"><span>9</span></div><div class="t c" style="left:32.3px;top:625.27px;font-family:'DejaVu Sans Condensed', 'DejaVu Sans', sans-serif;font-size:20.5px;font-weight:normal;color:#e4e4e4;"><span>10</span></div><div class="t c" style="left:32.3px;top:664.38px;font-family:'DejaVu Sans Condensed', 'DejaVu Sans', sans-serif;font-size:20.5px;font-weight:normal;color:#e4e4e4;"><span>11</span></div><div class="t c" style="left:32.3px;top:703.58px;font-family:'DejaVu Sans Condensed', 'DejaVu Sans', sans-serif;font-size:20.5px;font-weight:normal;color:#e4e4e4;"><span>12</span></div><div class="t c" style="left:32.3px;top:742.48px;font-family:'DejaVu Sans Condensed', 'DejaVu Sans', sans-serif;font-size:20.5px;font-weight:normal;color:#e4e4e4;"><span>13</span></div><div class="t c" style="left:32.3px;top:780.48px;font-family:'DejaVu Sans Condensed', 'DejaVu Sans', sans-serif;font-size:20.5px;font-weight:normal;color:#e4e4e4;"><span>14</span></div><div class="t c" style="left:32.3px;top:818.58px;font-family:'DejaVu Sans Condensed', 'DejaVu Sans', sans-serif;font-size:20.5px;font-weight:normal;color:#e4e4e4;"><span>15</span></div><div class="t c" style="left:32.3px;top:856.58px;font-family:'DejaVu Sans Condensed', 'DejaVu Sans', sans-serif;font-size:20.5px;font-weight:normal;color:#e4e4e4;"><span>16</span></div><div class="t c" style="left:32.3px;top:894.58px;font-family:'DejaVu Sans Condensed', 'DejaVu Sans', sans-serif;font-size:20.5px;font-weight:normal;color:#e4e4e4;"><span>17</span></div><div class="t c" style="left:32.3px;top:932.58px;font-family:'DejaVu Sans Condensed', 'DejaVu Sans', sans-serif;font-size:20.5px;font-weight:normal;color:#e4e4e4;"><span>18</span></div><div class="t c" style="left:32.3px;top:970.38px;font-family:'DejaVu Sans Condensed', 'DejaVu Sans', sans-serif;font-size:20.5px;font-weight:normal;color:#e4e4e4;"><span>19</span></div><div class="t c" style="left:32.3px;top:1009.38px;font-family:'DejaVu Sans Condensed', 'DejaVu Sans', sans-serif;font-size:20.5px;font-weight:normal;color:#e4e4e4;"><span>20</span></div><div class="t c" style="left:32.3px;top:1037.58px;font-family:'DejaVu Sans Condensed', 'DejaVu Sans', sans-serif;font-size:20.5px;font-weight:normal;color:#e4e4e4;"><span>21</span></div><div class="t c" style="left:32.3px;top:1065.38px;font-family:'DejaVu Sans Condensed', 'DejaVu Sans', sans-serif;font-size:20.5px;font-weight:normal;color:#e4e4e4;"><span>22</span></div><div class="t c" style="left:32.3px;top:1093.58px;font-family:'DejaVu Sans Condensed', 'DejaVu Sans', sans-serif;font-size:20.5px;font-weight:normal;color:#e4e4e4;"><span>23</span></div><div class="t c" style="left:32.3px;top:1121.48px;font-family:'DejaVu Sans Condensed', 'DejaVu Sans', sans-serif;font-size:20.5px;font-weight:normal;color:#e4e4e4;"><span>24</span></div><div class="t c" style="left:32.3px;top:1153.28px;font-family:'DejaVu Sans Condensed', 'DejaVu Sans', sans-serif;font-size:20.5px;font-weight:normal;color:#e4e4e4;"><span>25</span></div><div class="t c" style="left:32.3px;top:1181.38px;font-family:'DejaVu Sans Condensed', 'DejaVu Sans', sans-serif;font-size:20.5px;font-weight:normal;color:#e4e4e4;"><span>26</span></div><div class="t c" style="left:32.3px;top:1209.28px;font-family:'DejaVu Sans Condensed', 'DejaVu Sans', sans-serif;font-size:20.5px;font-weight:normal;color:#e4e4e4;"><span>27</span></div><div class="t c" style="left:32.3px;top:1237.28px;font-family:'DejaVu Sans Condensed', 'DejaVu Sans', sans-serif;font-size:20.5px;font-weight:normal;color:#e4e4e4;"><span>28</span></div><div class="t c" style="left:32.3px;top:1265.68px;font-family:'DejaVu Sans Condensed', 'DejaVu Sans', sans-serif;font-size:20.5px;font-weight:normal;color:#e4e4e4;"><span>29</span></div><div class="t c" style="left:32.3px;top:1293.28px;font-family:'DejaVu Sans Condensed', 'DejaVu Sans', sans-serif;font-size:20.5px;font-weight:normal;color:#e4e4e4;"><span>30</span></div><div class="t c" style="left:32.3px;top:1321.48px;font-family:'DejaVu Sans Condensed', 'DejaVu Sans', sans-serif;font-size:20.5px;font-weight:normal;color:#e4e4e4;"><span>31</span></div><div class="t c" style="left:32.3px;top:1349.38px;font-family:'DejaVu Sans Condensed', 'DejaVu Sans', sans-serif;font-size:20.5px;font-weight:normal;color:#e4e4e4;"><span>32</span></div><div class="t c" style="left:32.3px;top:1377.58px;font-family:'DejaVu Sans Condensed', 'DejaVu Sans', sans-serif;font-size:20.5px;font-weight:normal;color:#e4e4e4;"><span>33</span></div><div class="t c" style="left:32.3px;top:1405.38px;font-family:'DejaVu Sans Condensed', 'DejaVu Sans', sans-serif;font-size:20.5px;font-weight:normal;color:#e4e4e4;"><span>34</span></div><div class="t c" style="left:32.3px;top:1433.08px;font-family:'DejaVu Sans Condensed', 'DejaVu Sans', sans-serif;font-size:20.5px;font-weight:normal;color:#e4e4e4;"><span>35</span></div><div class="t c" style="left:32.3px;top:1461.58px;font-family:'DejaVu Sans Condensed', 'DejaVu Sans', sans-serif;font-size:20.5px;font-weight:normal;color:#e4e4e4;"><span>36</span></div><div class="t c" style="left:32.3px;top:1489.58px;font-family:'DejaVu Sans Condensed', 'DejaVu Sans', sans-serif;font-size:20.5px;font-weight:normal;color:#e4e4e4;"><span>37</span></div><div class="t c" style="left:32.3px;top:1528.18px;font-family:'DejaVu Sans Condensed', 'DejaVu Sans', sans-serif;font-size:20.5px;font-weight:normal;color:#e4e4e4;"><span>38</span></div><div class="t c" style="left:32.3px;top:1556.18px;font-family:'DejaVu Sans Condensed', 'DejaVu Sans', sans-serif;font-size:20.5px;font-weight:normal;color:#e4e4e4;"><span>39</span></div><div class="t c" style="left:32.3px;top:1584.28px;font-family:'DejaVu Sans Condensed', 'DejaVu Sans', sans-serif;font-size:20.5px;font-weight:normal;color:#e4e4e4;"><span>40</span></div><div class="t c" style="left:32.3px;top:1612.38px;font-family:'DejaVu Sans Condensed', 'DejaVu Sans', sans-serif;font-size:20.5px;font-weight:normal;color:#e4e4e4;"><span>41</span></div><div class="t c" style="left:32.3px;top:1640.38px;font-family:'DejaVu Sans Condensed', 'DejaVu Sans', sans-serif;font-size:20.5px;font-weight:normal;color:#e4e4e4;"><span>42</span></div><div class="b" style="left:11px;top:1670px;width:2849px;height:1px;background:#0a0a0a;"></div><svg class="b" style="left:53px;top:305px" width="2807" height="1365" viewBox="53 305 2807 1365"><rect x="53" y="305" width="2807" height="1365" fill="#ffffff"/><line x1="53" y1="459.5" x2="2860" y2="459.5" stroke="#8e8e8e" stroke-width="1"/><line x1="53.5" y1="305" x2="53.5" y2="1670" stroke="#9a9a9a" stroke-width="1"/><line x1="53.8" y1="305" x2="53.8" y2="349.5" stroke="#1e7145" stroke-width="2.4"/><text x="89.2" y="342.2" font-family="'DejaVu Sans Condensed', 'DejaVu Sans', sans-serif" font-size="39.6" font-weight="bold" fill="#212121" text-anchor="start" textLength="325.5" lengthAdjust="spacingAndGlyphs">Benchmark KPIs</text><text x="88.4" y="382" font-family="'DejaVu Sans Condensed', 'DejaVu Sans', sans-serif" font-size="34" font-weight="bold" fill="#000" text-anchor="start" textLength="314.5" lengthAdjust="spacingAndGlyphs">ABC Company Inc.</text><text x="86.4" y="417.7" font-family="'DejaVu Sans Condensed', 'DejaVu Sans', sans-serif" font-size="21.5" font-weight="bold" fill="#2f7be0" text-anchor="start" textLength="259" lengthAdjust="spacingAndGlyphs">Go to Table of Contents</text><rect x="87.1" y="419.6" width="257.8" height="2" fill="#2f7be0"/><rect x="82" y="459.5" width="1388.5" height="35.30000000000001" fill="#4b50d2"/><text x="776.25" y="486.95" font-family="'DejaVu Sans Condensed', 'DejaVu Sans', sans-serif" font-size="27.2" font-weight="bold" fill="#ffffff" text-anchor="middle" textLength="234.4" lengthAdjust="spacingAndGlyphs">Benchmark KPIs</text><rect x="622.5" y="533" width="848" height="37" fill="#6b72e6"/><text x="716.25" y="559.8" font-family="'DejaVu Sans Condensed', 'DejaVu Sans', sans-serif" font-size="21.6" font-weight="bold" fill="#ffffff" text-anchor="middle" >Industry</text><text x="876.15" y="559.8" font-family="'DejaVu Sans Condensed', 'DejaVu Sans', sans-serif" font-size="21.6" font-weight="bold" fill="#ffffff" text-anchor="middle" >2026</text><text x="1008.35" y="559.8" font-family="'DejaVu Sans Condensed', 'DejaVu Sans', sans-serif" font-size="21.6" font-weight="bold" fill="#ffffff" text-anchor="middle" >2027</text><text x="1140.3000000000002" y="559.8" font-family="'DejaVu Sans Condensed', 'DejaVu Sans', sans-serif" font-size="21.6" font-weight="bold" fill="#ffffff" text-anchor="middle" >2028</text><text x="1272.35" y="559.8" font-family="'DejaVu Sans Condensed', 'DejaVu Sans', sans-serif" font-size="21.6" font-weight="bold" fill="#ffffff" text-anchor="middle" >2029</text><text x="1404.5" y="559.8" font-family="'DejaVu Sans Condensed', 'DejaVu Sans', sans-serif" font-size="21.6" font-weight="bold" fill="#ffffff" text-anchor="middle" >2030</text><line x1="810" y1="533" x2="810" y2="570" stroke="#ffffff" stroke-width="1.6"/><line x1="942.3" y1="533" x2="942.3" y2="570" stroke="#ffffff" stroke-width="1.6"/><line x1="1074.4" y1="533" x2="1074.4" y2="570" stroke="#ffffff" stroke-width="1.6"/><line x1="1206.2" y1="533" x2="1206.2" y2="570" stroke="#ffffff" stroke-width="1.6"/><line x1="1338.5" y1="533" x2="1338.5" y2="570" stroke="#ffffff" stroke-width="1.6"/><rect x="622.5" y="570" width="187.5" height="195.5" fill="#fff16a"/><text x="86.6" y="598.2" font-family="'DejaVu Sans Condensed', 'DejaVu Sans', sans-serif" font-size="22.4" font-weight="bold" fill="#1c2126" text-anchor="start" textLength="185.7" lengthAdjust="spacingAndGlyphs">Gross margin, %</text><text x="716.25" y="598" font-family="'DejaVu Sans Condensed', 'DejaVu Sans', sans-serif" font-size="21.6" font-weight="normal" fill="#111111" text-anchor="middle" >40.0%</text><text x="876.15" y="598" font-family="'DejaVu Sans Condensed', 'DejaVu Sans', sans-serif" font-size="21.6" font-weight="normal" fill="#111111" text-anchor="middle" >95.0%</text><text x="1008.35" y="598" font-family="'DejaVu Sans Condensed', 'DejaVu Sans', sans-serif" font-size="21.6" font-weight="normal" fill="#111111" text-anchor="middle" >95.2%</text><text x="1140.3000000000002" y="598" font-family="'DejaVu Sans Condensed', 'DejaVu Sans', sans-serif" font-size="21.6" font-weight="normal" fill="#111111" text-anchor="middle" >95.4%</text><text x="1272.35" y="598" font-family="'DejaVu Sans Condensed', 'DejaVu Sans', sans-serif" font-size="21.6" font-weight="normal" fill="#111111" text-anchor="middle" >95.6%</text><text x="1404.5" y="598" font-family="'DejaVu Sans Condensed', 'DejaVu Sans', sans-serif" font-size="21.6" font-weight="normal" fill="#111111" text-anchor="middle" >95.8%</text><text x="86.6" y="637.5" font-family="'DejaVu Sans Condensed', 'DejaVu Sans', sans-serif" font-size="22.4" font-weight="bold" fill="#1c2126" text-anchor="start" textLength="264.8" lengthAdjust="spacingAndGlyphs">Contribution margin, %</text><text x="716.25" y="637.3" font-family="'DejaVu Sans Condensed', 'DejaVu Sans', sans-serif" font-size="21.6" font-weight="normal" fill="#111111" text-anchor="middle" >30.0%</text><text x="876.15" y="637.3" font-family="'DejaVu Sans Condensed', 'DejaVu Sans', sans-serif" font-size="21.6" font-weight="normal" fill="#111111" text-anchor="middle" >31.1%</text><text x="1008.35" y="637.3" font-family="'DejaVu Sans Condensed', 'DejaVu Sans', sans-serif" font-size="21.6" font-weight="normal" fill="#111111" text-anchor="middle" >49.7%</text><text x="1140.3000000000002" y="637.3" font-family="'DejaVu Sans Condensed', 'DejaVu Sans', sans-serif" font-size="21.6" font-weight="normal" fill="#111111" text-anchor="middle" >57.3%</text><text x="1272.35" y="637.3" font-family="'DejaVu Sans Condensed', 'DejaVu Sans', sans-serif" font-size="21.6" font-weight="normal" fill="#111111" text-anchor="middle" >63.7%</text><text x="1404.5" y="637.3" font-family="'DejaVu Sans Condensed', 'DejaVu Sans', sans-serif" font-size="21.6" font-weight="normal" fill="#111111" text-anchor="middle" >68.9%</text><text x="86.6" y="676.6" font-family="'DejaVu Sans Condensed', 'DejaVu Sans', sans-serif" font-size="22.4" font-weight="bold" fill="#1c2126" text-anchor="start" textLength="123.9" lengthAdjust="spacingAndGlyphs">EBITDA, %</text><text x="716.25" y="676.4" font-family="'DejaVu Sans Condensed', 'DejaVu Sans', sans-serif" font-size="21.6" font-weight="normal" fill="#111111" text-anchor="middle" >20.0%</text><text x="876.15" y="676.4" font-family="'DejaVu Sans Condensed', 'DejaVu Sans', sans-serif" font-size="21.6" font-weight="normal" fill="#111111" text-anchor="middle" >0.0%</text><text x="1008.35" y="676.4" font-family="'DejaVu Sans Condensed', 'DejaVu Sans', sans-serif" font-size="21.6" font-weight="normal" fill="#111111" text-anchor="middle" >0.0%</text><text x="1140.3000000000002" y="676.4" font-family="'DejaVu Sans Condensed', 'DejaVu Sans', sans-serif" font-size="21.6" font-weight="normal" fill="#111111" text-anchor="middle" >14.3%</text><text x="1272.35" y="676.4" font-family="'DejaVu Sans Condensed', 'DejaVu Sans', sans-serif" font-size="21.6" font-weight="normal" fill="#111111" text-anchor="middle" >38.2%</text><text x="1404.5" y="676.4" font-family="'DejaVu Sans Condensed', 'DejaVu Sans', sans-serif" font-size="21.6" font-weight="normal" fill="#111111" text-anchor="middle" >52.7%</text><text x="86.6" y="715.8000000000001" font-family="'DejaVu Sans Condensed', 'DejaVu Sans', sans-serif" font-size="22.4" font-weight="bold" fill="#1c2126" text-anchor="start" textLength="91.9" lengthAdjust="spacingAndGlyphs">EBIT, %</text><text x="716.25" y="715.6" font-family="'DejaVu Sans Condensed', 'DejaVu Sans', sans-serif" font-size="21.6" font-weight="normal" fill="#111111" text-anchor="middle" >15.0%</text><text x="876.15" y="715.6" font-family="'DejaVu Sans Condensed', 'DejaVu Sans', sans-serif" font-size="21.6" font-weight="normal" fill="#111111" text-anchor="middle" >0.0%</text><text x="1008.35" y="715.6" font-family="'DejaVu Sans Condensed', 'DejaVu Sans', sans-serif" font-size="21.6" font-weight="normal" fill="#111111" text-anchor="middle" >0.0%</text><text x="1140.3000000000002" y="715.6" font-family="'DejaVu Sans Condensed', 'DejaVu Sans', sans-serif" font-size="21.6" font-weight="normal" fill="#111111" text-anchor="middle" >13.2%</text><text x="1272.35" y="715.6" font-family="'DejaVu Sans Condensed', 'DejaVu Sans', sans-serif" font-size="21.6" font-weight="normal" fill="#111111" text-anchor="middle" >37.6%</text><text x="1404.5" y="715.6" font-family="'DejaVu Sans Condensed', 'DejaVu Sans', sans-serif" font-size="21.6" font-weight="normal" fill="#111111" text-anchor="middle" >52.4%</text><text x="86.6" y="754.7" font-family="'DejaVu Sans Condensed', 'DejaVu Sans', sans-serif" font-size="22.4" font-weight="bold" fill="#1c2126" text-anchor="start" textLength="251.7" lengthAdjust="spacingAndGlyphs">Net Profit After Tax, %</text><text x="716.25" y="754.5" font-family="'DejaVu Sans Condensed', 'DejaVu Sans', sans-serif" font-size="21.6" font-weight="normal" fill="#111111" text-anchor="middle" >10.0%</text><text x="876.15" y="754.5" font-family="'DejaVu Sans Condensed', 'DejaVu Sans', sans-serif" font-size="21.6" font-weight="normal" fill="#111111" text-anchor="middle" >0.0%</text><text x="1008.35" y="754.5" font-family="'DejaVu Sans Condensed', 'DejaVu Sans', sans-serif" font-size="21.6" font-weight="normal" fill="#111111" text-anchor="middle" >0.0%</text><text x="1140.3000000000002" y="754.5" font-family="'DejaVu Sans Condensed', 'DejaVu Sans', sans-serif" font-size="21.6" font-weight="normal" fill="#111111" text-anchor="middle" >9.4%</text><text x="1272.35" y="754.5" font-family="'DejaVu Sans Condensed', 'DejaVu Sans', sans-serif" font-size="21.6" font-weight="normal" fill="#111111" text-anchor="middle" >28.0%</text><text x="1404.5" y="754.5" font-family="'DejaVu Sans Condensed', 'DejaVu Sans', sans-serif" font-size="21.6" font-weight="normal" fill="#111111" text-anchor="middle" >39.2%</text><line x1="622.5" y1="609" x2="1470.5" y2="609" stroke="#d7d9ea" stroke-width="1.2"/><line x1="622.5" y1="648.3" x2="1470.5" y2="648.3" stroke="#d7d9ea" stroke-width="1.2"/><line x1="622.5" y1="687.4" x2="1470.5" y2="687.4" stroke="#d7d9ea" stroke-width="1.2"/><line x1="622.5" y1="726.6" x2="1470.5" y2="726.6" stroke="#d7d9ea" stroke-width="1.2"/><line x1="622.5" y1="765.5" x2="1470.5" y2="765.5" stroke="#d7d9ea" stroke-width="1.2"/><line x1="622.5" y1="570" x2="622.5" y2="765.5" stroke="#d7d9ea" stroke-width="1.2"/><line x1="810" y1="570" x2="810" y2="765.5" stroke="#d7d9ea" stroke-width="1.2"/><line x1="942.3" y1="570" x2="942.3" y2="765.5" stroke="#d7d9ea" stroke-width="1.2"/><line x1="1074.4" y1="570" x2="1074.4" y2="765.5" stroke="#d7d9ea" stroke-width="1.2"/><line x1="1206.2" y1="570" x2="1206.2" y2="765.5" stroke="#d7d9ea" stroke-width="1.2"/><line x1="1338.5" y1="570" x2="1338.5" y2="765.5" stroke="#d7d9ea" stroke-width="1.2"/><line x1="1470.5" y1="570" x2="1470.5" y2="765.5" stroke="#d7d9ea" stroke-width="1.2"/><rect x="1508" y="459.5" width="1314.6" height="35.30000000000001" fill="#4b50d2"/><text x="2165.3" y="486.95" font-family="'DejaVu Sans Condensed', 'DejaVu Sans', sans-serif" font-size="27.2" font-weight="bold" fill="#ffffff" text-anchor="middle" textLength="235" lengthAdjust="spacingAndGlyphs">Gross Margin, %</text><line x1="1747.8" y1="524.8" x2="1818.8" y2="524.8" stroke="#4ab1e8" stroke-width="5.5" stroke-linecap="round"/><circle cx="1782.6" cy="524.8" r="6" fill="#4ab1e8"/><text x="1826.2" y="532.0999999999999" font-family="'DejaVu Sans Condensed', 'DejaVu Sans', sans-serif" font-size="21.8" font-weight="bold" fill="#000" text-anchor="start" textLength="188.5" lengthAdjust="spacingAndGlyphs">Gross margin, %</text><line x1="2224.3" y1="524.8" x2="2243.1" y2="524.8" stroke="#ed7d31" stroke-width="5.5" stroke-linecap="round"/><line x1="2269.0" y1="524.8" x2="2287.2999999999997" y2="524.8" stroke="#ed7d31" stroke-width="5.5" stroke-linecap="round"/><circle cx="2259.1" cy="524.8" r="6.4" fill="#ed7d31"/><text x="2302.6" y="532.0999999999999" font-family="'DejaVu Sans Condensed', 'DejaVu Sans', sans-serif" font-size="21.8" font-weight="bold" fill="#000" text-anchor="start" textLength="294" lengthAdjust="spacingAndGlyphs">Industry Gross margin, %</text><polygon points="1736,931.5 1736,652.44 1977.3,651.85 2218.6,651.26 2459.4,650.67 2700.5,650.09 2700.5,931.5" fill="#a3d8f2"/><text x="1594.6" y="939.30" font-family="'DejaVu Sans', sans-serif" font-size="21.4" font-weight="bold" fill="#000" text-anchor="end" textLength="40.2" lengthAdjust="spacingAndGlyphs">0%</text><line x1="1615.5" y1="873.5" x2="2821.5" y2="873.5" stroke="#69a8d2" stroke-width="1"/><text x="1594.6" y="880.55" font-family="'DejaVu Sans', sans-serif" font-size="21.4" font-weight="bold" fill="#000" text-anchor="end" textLength="54.8" lengthAdjust="spacingAndGlyphs">20%</text><line x1="1615.5" y1="814.5" x2="2821.5" y2="814.5" stroke="#69a8d2" stroke-width="1"/><text x="1594.6" y="821.80" font-family="'DejaVu Sans', sans-serif" font-size="21.4" font-weight="bold" fill="#000" text-anchor="end" textLength="54.8" lengthAdjust="spacingAndGlyphs">40%</text><line x1="1615.5" y1="755.5" x2="2821.5" y2="755.5" stroke="#69a8d2" stroke-width="1"/><text x="1594.6" y="763.05" font-family="'DejaVu Sans', sans-serif" font-size="21.4" font-weight="bold" fill="#000" text-anchor="end" textLength="54.8" lengthAdjust="spacingAndGlyphs">60%</text><line x1="1615.5" y1="696.5" x2="2821.5" y2="696.5" stroke="#69a8d2" stroke-width="1"/><text x="1594.6" y="704.30" font-family="'DejaVu Sans', sans-serif" font-size="21.4" font-weight="bold" fill="#000" text-anchor="end" textLength="54.8" lengthAdjust="spacingAndGlyphs">80%</text><line x1="1615.5" y1="638.5" x2="2821.5" y2="638.5" stroke="#69a8d2" stroke-width="1"/><text x="1594.6" y="645.55" font-family="'DejaVu Sans', sans-serif" font-size="21.4" font-weight="bold" fill="#000" text-anchor="end" textLength="69.4" lengthAdjust="spacingAndGlyphs">100%</text><line x1="1615.5" y1="579.5" x2="2821.5" y2="579.5" stroke="#69a8d2" stroke-width="1"/><text x="1594.6" y="586.80" font-family="'DejaVu Sans', sans-serif" font-size="21.4" font-weight="bold" fill="#000" text-anchor="end" textLength="69.4" lengthAdjust="spacingAndGlyphs">120%</text><polyline points="1736,652.44 1977.3,651.85 2218.6,651.26 2459.4,650.67 2700.5,650.09" fill="none" stroke="#4ab1e8" stroke-width="6.0" stroke-linejoin="round" stroke-linecap="round"/><circle cx="1736" cy="652.44" r="7.4" fill="#4ab1e8"/><circle cx="1977.3" cy="651.85" r="7.4" fill="#4ab1e8"/><circle cx="2218.6" cy="651.26" r="7.4" fill="#4ab1e8"/><circle cx="2459.4" cy="650.67" r="7.4" fill="#4ab1e8"/><circle cx="2700.5" cy="650.09" r="7.4" fill="#4ab1e8"/><line x1="1736" y1="814.00" x2="1977.3" y2="814.00" stroke="#ed7d31" stroke-width="6.0" stroke-dasharray="18 26" stroke-dashoffset="-3" stroke-linecap="round"/><line x1="1977.3" y1="814.00" x2="2218.6" y2="814.00" stroke="#ed7d31" stroke-width="6.0" stroke-dasharray="18 26" stroke-dashoffset="-3" stroke-linecap="round"/><line x1="2218.6" y1="814.00" x2="2459.4" y2="814.00" stroke="#ed7d31" stroke-width="6.0" stroke-dasharray="18 26" stroke-dashoffset="-3" stroke-linecap="round"/><line x1="2459.4" y1="814.00" x2="2700.5" y2="814.00" stroke="#ed7d31" stroke-width="6.0" stroke-dasharray="18 26" stroke-dashoffset="-3" stroke-linecap="round"/><circle cx="1736" cy="814.00" r="7.5" fill="#ed7d31"/><circle cx="1977.3" cy="814.00" r="7.5" fill="#ed7d31"/><circle cx="2218.6" cy="814.00" r="7.5" fill="#ed7d31"/><circle cx="2459.4" cy="814.00" r="7.5" fill="#ed7d31"/><circle cx="2700.5" cy="814.00" r="7.5" fill="#ed7d31"/><text x="1736" y="969.0" font-family="'DejaVu Sans Condensed', 'DejaVu Sans', sans-serif" font-size="21.4" font-weight="bold" fill="#000" text-anchor="middle" textLength="57.5" lengthAdjust="spacingAndGlyphs">2026</text><text x="1977.3" y="969.0" font-family="'DejaVu Sans Condensed', 'DejaVu Sans', sans-serif" font-size="21.4" font-weight="bold" fill="#000" text-anchor="middle" textLength="57.5" lengthAdjust="spacingAndGlyphs">2027</text><text x="2218.6" y="969.0" font-family="'DejaVu Sans Condensed', 'DejaVu Sans', sans-serif" font-size="21.4" font-weight="bold" fill="#000" text-anchor="middle" textLength="57.5" lengthAdjust="spacingAndGlyphs">2028</text><text x="2459.4" y="969.0" font-family="'DejaVu Sans Condensed', 'DejaVu Sans', sans-serif" font-size="21.4" font-weight="bold" fill="#000" text-anchor="middle" textLength="57.5" lengthAdjust="spacingAndGlyphs">2029</text><text x="2700.5" y="969.0" font-family="'DejaVu Sans Condensed', 'DejaVu Sans', sans-serif" font-size="21.4" font-weight="bold" fill="#000" text-anchor="middle" textLength="57.5" lengthAdjust="spacingAndGlyphs">2030</text><rect x="82" y="993.2" width="1389" height="39.399999999999864" fill="#4b50d2"/><text x="776.5" y="1022.6999999999999" font-family="'DejaVu Sans Condensed', 'DejaVu Sans', sans-serif" font-size="27.2" font-weight="bold" fill="#ffffff" text-anchor="middle" textLength="334.4" lengthAdjust="spacingAndGlyphs">Contribution Margin, %</text><line x1="290.2" y1="1062.7" x2="361.2" y2="1062.7" stroke="#4ab1e8" stroke-width="5.5" stroke-linecap="round"/><circle cx="325.0" cy="1062.7" r="6" fill="#4ab1e8"/><text x="368.59999999999997" y="1070.0" font-family="'DejaVu Sans Condensed', 'DejaVu Sans', sans-serif" font-size="21.8" font-weight="bold" fill="#000" text-anchor="start" textLength="267.5" lengthAdjust="spacingAndGlyphs">Contribution margin, %</text><line x1="816.8" y1="1062.7" x2="835.6" y2="1062.7" stroke="#ed7d31" stroke-width="5.5" stroke-linecap="round"/><line x1="861.5" y1="1062.7" x2="879.8000000000001" y2="1062.7" stroke="#ed7d31" stroke-width="5.5" stroke-linecap="round"/><circle cx="851.6" cy="1062.7" r="6.4" fill="#ed7d31"/><text x="895.1" y="1070.0" font-family="'DejaVu Sans Condensed', 'DejaVu Sans', sans-serif" font-size="21.8" font-weight="bold" fill="#000" text-anchor="start" textLength="371.5" lengthAdjust="spacingAndGlyphs">Industry Contribution margin, %</text><polygon points="321,1461.8 321,1327.14 573.5,1246.60 826,1213.69 1078.5,1185.98 1331,1163.46 1331,1461.8" fill="#a3d8f2"/><text x="173.4" y="1469.60" font-family="'DejaVu Sans', sans-serif" font-size="21.4" font-weight="bold" fill="#000" text-anchor="end" textLength="40.2" lengthAdjust="spacingAndGlyphs">0%</text><line x1="194.7" y1="1418.5" x2="1456.7" y2="1418.5" stroke="#69a8d2" stroke-width="1"/><text x="173.4" y="1426.30" font-family="'DejaVu Sans', sans-serif" font-size="21.4" font-weight="bold" fill="#000" text-anchor="end" textLength="54.8" lengthAdjust="spacingAndGlyphs">10%</text><line x1="194.7" y1="1375.5" x2="1456.7" y2="1375.5" stroke="#69a8d2" stroke-width="1"/><text x="173.4" y="1383.00" font-family="'DejaVu Sans', sans-serif" font-size="21.4" font-weight="bold" fill="#000" text-anchor="end" textLength="54.8" lengthAdjust="spacingAndGlyphs">20%</text><line x1="194.7" y1="1332.5" x2="1456.7" y2="1332.5" stroke="#69a8d2" stroke-width="1"/><text x="173.4" y="1339.70" font-family="'DejaVu Sans', sans-serif" font-size="21.4" font-weight="bold" fill="#000" text-anchor="end" textLength="54.8" lengthAdjust="spacingAndGlyphs">30%</text><line x1="194.7" y1="1288.5" x2="1456.7" y2="1288.5" stroke="#69a8d2" stroke-width="1"/><text x="173.4" y="1296.40" font-family="'DejaVu Sans', sans-serif" font-size="21.4" font-weight="bold" fill="#000" text-anchor="end" textLength="54.8" lengthAdjust="spacingAndGlyphs">40%</text><line x1="194.7" y1="1245.5" x2="1456.7" y2="1245.5" stroke="#69a8d2" stroke-width="1"/><text x="173.4" y="1253.10" font-family="'DejaVu Sans', sans-serif" font-size="21.4" font-weight="bold" fill="#000" text-anchor="end" textLength="54.8" lengthAdjust="spacingAndGlyphs">50%</text><line x1="194.7" y1="1202.5" x2="1456.7" y2="1202.5" stroke="#69a8d2" stroke-width="1"/><text x="173.4" y="1209.80" font-family="'DejaVu Sans', sans-serif" font-size="21.4" font-weight="bold" fill="#000" text-anchor="end" textLength="54.8" lengthAdjust="spacingAndGlyphs">60%</text><line x1="194.7" y1="1159.5" x2="1456.7" y2="1159.5" stroke="#69a8d2" stroke-width="1"/><text x="173.4" y="1166.50" font-family="'DejaVu Sans', sans-serif" font-size="21.4" font-weight="bold" fill="#000" text-anchor="end" textLength="54.8" lengthAdjust="spacingAndGlyphs">70%</text><line x1="194.7" y1="1115.5" x2="1456.7" y2="1115.5" stroke="#69a8d2" stroke-width="1"/><text x="173.4" y="1123.20" font-family="'DejaVu Sans', sans-serif" font-size="21.4" font-weight="bold" fill="#000" text-anchor="end" textLength="54.8" lengthAdjust="spacingAndGlyphs">80%</text><polyline points="321,1327.14 573.5,1246.60 826,1213.69 1078.5,1185.98 1331,1163.46" fill="none" stroke="#4ab1e8" stroke-width="6.0" stroke-linejoin="round" stroke-linecap="round"/><circle cx="321" cy="1327.14" r="7.4" fill="#4ab1e8"/><circle cx="573.5" cy="1246.60" r="7.4" fill="#4ab1e8"/><circle cx="826" cy="1213.69" r="7.4" fill="#4ab1e8"/><circle cx="1078.5" cy="1185.98" r="7.4" fill="#4ab1e8"/><circle cx="1331" cy="1163.46" r="7.4" fill="#4ab1e8"/><line x1="321" y1="1331.90" x2="573.5" y2="1331.90" stroke="#ed7d31" stroke-width="6.0" stroke-dasharray="18 26" stroke-dashoffset="-3" stroke-linecap="round"/><line x1="573.5" y1="1331.90" x2="826" y2="1331.90" stroke="#ed7d31" stroke-width="6.0" stroke-dasharray="18 26" stroke-dashoffset="-3" stroke-linecap="round"/><line x1="826" y1="1331.90" x2="1078.5" y2="1331.90" stroke="#ed7d31" stroke-width="6.0" stroke-dasharray="18 26" stroke-dashoffset="-3" stroke-linecap="round"/><line x1="1078.5" y1="1331.90" x2="1331" y2="1331.90" stroke="#ed7d31" stroke-width="6.0" stroke-dasharray="18 26" stroke-dashoffset="-3" stroke-linecap="round"/><circle cx="321" cy="1331.90" r="7.5" fill="#ed7d31"/><circle cx="573.5" cy="1331.90" r="7.5" fill="#ed7d31"/><circle cx="826" cy="1331.90" r="7.5" fill="#ed7d31"/><circle cx="1078.5" cy="1331.90" r="7.5" fill="#ed7d31"/><circle cx="1331" cy="1331.90" r="7.5" fill="#ed7d31"/><text x="321" y="1499.3" font-family="'DejaVu Sans Condensed', 'DejaVu Sans', sans-serif" font-size="21.4" font-weight="bold" fill="#000" text-anchor="middle" textLength="57.5" lengthAdjust="spacingAndGlyphs">2026</text><text x="573.5" y="1499.3" font-family="'DejaVu Sans Condensed', 'DejaVu Sans', sans-serif" font-size="21.4" font-weight="bold" fill="#000" text-anchor="middle" textLength="57.5" lengthAdjust="spacingAndGlyphs">2027</text><text x="826" y="1499.3" font-family="'DejaVu Sans Condensed', 'DejaVu Sans', sans-serif" font-size="21.4" font-weight="bold" fill="#000" text-anchor="middle" textLength="57.5" lengthAdjust="spacingAndGlyphs">2028</text><text x="1078.5" y="1499.3" font-family="'DejaVu Sans Condensed', 'DejaVu Sans', sans-serif" font-size="21.4" font-weight="bold" fill="#000" text-anchor="middle" textLength="57.5" lengthAdjust="spacingAndGlyphs">2029</text><text x="1331" y="1499.3" font-family="'DejaVu Sans Condensed', 'DejaVu Sans', sans-serif" font-size="21.4" font-weight="bold" fill="#000" text-anchor="middle" textLength="57.5" lengthAdjust="spacingAndGlyphs">2030</text><rect x="1508" y="993.2" width="1314.6" height="39.399999999999864" fill="#4b50d2"/><text x="2165.3" y="1022.6999999999999" font-family="'DejaVu Sans Condensed', 'DejaVu Sans', sans-serif" font-size="27.2" font-weight="bold" fill="#ffffff" text-anchor="middle" textLength="157.3" lengthAdjust="spacingAndGlyphs">EBITDA, %</text><line x1="1793.2" y1="1062.6" x2="1864.2" y2="1062.6" stroke="#4ab1e8" stroke-width="5.5" stroke-linecap="round"/><circle cx="1828.0" cy="1062.6" r="6" fill="#4ab1e8"/><text x="1871.6000000000001" y="1069.8999999999999" font-family="'DejaVu Sans Condensed', 'DejaVu Sans', sans-serif" font-size="21.8" font-weight="bold" fill="#000" text-anchor="start" textLength="125.8" lengthAdjust="spacingAndGlyphs">EBITDA, %</text><line x1="2245.8" y1="1062.6" x2="2264.6" y2="1062.6" stroke="#ed7d31" stroke-width="5.5" stroke-linecap="round"/><line x1="2290.5" y1="1062.6" x2="2308.7999999999997" y2="1062.6" stroke="#ed7d31" stroke-width="5.5" stroke-linecap="round"/><circle cx="2280.6" cy="1062.6" r="6.4" fill="#ed7d31"/><text x="2324.1" y="1069.8999999999999" font-family="'DejaVu Sans Condensed', 'DejaVu Sans', sans-serif" font-size="21.8" font-weight="bold" fill="#000" text-anchor="start" textLength="229.6" lengthAdjust="spacingAndGlyphs">Industry EBITDA, %</text><polygon points="1736,1461.4 1736,1461.40 1977.3,1461.40 2218.6,1378.91 2459.4,1241.05 2700.5,1157.41 2700.5,1461.4" fill="#a3d8f2"/><text x="1594.6" y="1469.20" font-family="'DejaVu Sans', sans-serif" font-size="21.4" font-weight="bold" fill="#000" text-anchor="end" textLength="40.2" lengthAdjust="spacingAndGlyphs">0%</text><line x1="1615.5" y1="1404.5" x2="2821.5" y2="1404.5" stroke="#69a8d2" stroke-width="1"/><text x="1594.6" y="1411.52" font-family="'DejaVu Sans', sans-serif" font-size="21.4" font-weight="bold" fill="#000" text-anchor="end" textLength="54.8" lengthAdjust="spacingAndGlyphs">10%</text><line x1="1615.5" y1="1346.5" x2="2821.5" y2="1346.5" stroke="#69a8d2" stroke-width="1"/><text x="1594.6" y="1353.83" font-family="'DejaVu Sans', sans-serif" font-size="21.4" font-weight="bold" fill="#000" text-anchor="end" textLength="54.8" lengthAdjust="spacingAndGlyphs">20%</text><line x1="1615.5" y1="1288.5" x2="2821.5" y2="1288.5" stroke="#69a8d2" stroke-width="1"/><text x="1594.6" y="1296.15" font-family="'DejaVu Sans', sans-serif" font-size="21.4" font-weight="bold" fill="#000" text-anchor="end" textLength="54.8" lengthAdjust="spacingAndGlyphs">30%</text><line x1="1615.5" y1="1230.5" x2="2821.5" y2="1230.5" stroke="#69a8d2" stroke-width="1"/><text x="1594.6" y="1238.47" font-family="'DejaVu Sans', sans-serif" font-size="21.4" font-weight="bold" fill="#000" text-anchor="end" textLength="54.8" lengthAdjust="spacingAndGlyphs">40%</text><line x1="1615.5" y1="1173.5" x2="2821.5" y2="1173.5" stroke="#69a8d2" stroke-width="1"/><text x="1594.6" y="1180.78" font-family="'DejaVu Sans', sans-serif" font-size="21.4" font-weight="bold" fill="#000" text-anchor="end" textLength="54.8" lengthAdjust="spacingAndGlyphs">50%</text><line x1="1615.5" y1="1115.5" x2="2821.5" y2="1115.5" stroke="#69a8d2" stroke-width="1"/><text x="1594.6" y="1123.10" font-family="'DejaVu Sans', sans-serif" font-size="21.4" font-weight="bold" fill="#000" text-anchor="end" textLength="54.8" lengthAdjust="spacingAndGlyphs">60%</text><polyline points="1736,1461.40 1977.3,1461.40 2218.6,1378.91 2459.4,1241.05 2700.5,1157.41" fill="none" stroke="#4ab1e8" stroke-width="6.0" stroke-linejoin="round" stroke-linecap="round"/><circle cx="1736" cy="1461.40" r="7.4" fill="#4ab1e8"/><circle cx="1977.3" cy="1461.40" r="7.4" fill="#4ab1e8"/><circle cx="2218.6" cy="1378.91" r="7.4" fill="#4ab1e8"/><circle cx="2459.4" cy="1241.05" r="7.4" fill="#4ab1e8"/><circle cx="2700.5" cy="1157.41" r="7.4" fill="#4ab1e8"/><line x1="1736" y1="1346.03" x2="1977.3" y2="1346.03" stroke="#ed7d31" stroke-width="6.0" stroke-dasharray="18 26" stroke-dashoffset="-3" stroke-linecap="round"/><line x1="1977.3" y1="1346.03" x2="2218.6" y2="1346.03" stroke="#ed7d31" stroke-width="6.0" stroke-dasharray="18 26" stroke-dashoffset="-3" stroke-linecap="round"/><line x1="2218.6" y1="1346.03" x2="2459.4" y2="1346.03" stroke="#ed7d31" stroke-width="6.0" stroke-dasharray="18 26" stroke-dashoffset="-3" stroke-linecap="round"/><line x1="2459.4" y1="1346.03" x2="2700.5" y2="1346.03" stroke="#ed7d31" stroke-width="6.0" stroke-dasharray="18 26" stroke-dashoffset="-3" stroke-linecap="round"/><circle cx="1736" cy="1346.03" r="7.5" fill="#ed7d31"/><circle cx="1977.3" cy="1346.03" r="7.5" fill="#ed7d31"/><circle cx="2218.6" cy="1346.03" r="7.5" fill="#ed7d31"/><circle cx="2459.4" cy="1346.03" r="7.5" fill="#ed7d31"/><circle cx="2700.5" cy="1346.03" r="7.5" fill="#ed7d31"/><text x="1736" y="1498.9" font-family="'DejaVu Sans Condensed', 'DejaVu Sans', sans-serif" font-size="21.4" font-weight="bold" fill="#000" text-anchor="middle" textLength="57.5" lengthAdjust="spacingAndGlyphs">2026</text><text x="1977.3" y="1498.9" font-family="'DejaVu Sans Condensed', 'DejaVu Sans', sans-serif" font-size="21.4" font-weight="bold" fill="#000" text-anchor="middle" textLength="57.5" lengthAdjust="spacingAndGlyphs">2027</text><text x="2218.6" y="1498.9" font-family="'DejaVu Sans Condensed', 'DejaVu Sans', sans-serif" font-size="21.4" font-weight="bold" fill="#000" text-anchor="middle" textLength="57.5" lengthAdjust="spacingAndGlyphs">2028</text><text x="2459.4" y="1498.9" font-family="'DejaVu Sans Condensed', 'DejaVu Sans', sans-serif" font-size="21.4" font-weight="bold" fill="#000" text-anchor="middle" textLength="57.5" lengthAdjust="spacingAndGlyphs">2029</text><text x="2700.5" y="1498.9" font-family="'DejaVu Sans Condensed', 'DejaVu Sans', sans-serif" font-size="21.4" font-weight="bold" fill="#000" text-anchor="middle" textLength="57.5" lengthAdjust="spacingAndGlyphs">2030</text><rect x="82" y="1512.1" width="1389" height="39.5" fill="#4b50d2"/><text x="776.5" y="1541.6499999999999" font-family="'DejaVu Sans Condensed', 'DejaVu Sans', sans-serif" font-size="27.2" font-weight="bold" fill="#ffffff" text-anchor="middle" textLength="116.9" lengthAdjust="spacingAndGlyphs">EBIT, %</text><line x1="406.5" y1="1580.7" x2="477.49999999999994" y2="1580.7" stroke="#4ab1e8" stroke-width="5.5" stroke-linecap="round"/><circle cx="441.3" cy="1580.7" r="6" fill="#4ab1e8"/><text x="484.9" y="1588.0" font-family="'DejaVu Sans Condensed', 'DejaVu Sans', sans-serif" font-size="21.8" font-weight="bold" fill="#000" text-anchor="start" textLength="93" lengthAdjust="spacingAndGlyphs">EBIT, %</text><line x1="875.1999999999999" y1="1580.7" x2="894.0" y2="1580.7" stroke="#ed7d31" stroke-width="5.5" stroke-linecap="round"/><line x1="919.9" y1="1580.7" x2="938.2" y2="1580.7" stroke="#ed7d31" stroke-width="5.5" stroke-linecap="round"/><circle cx="910.0" cy="1580.7" r="6.4" fill="#ed7d31"/><text x="953.5" y="1588.0" font-family="'DejaVu Sans Condensed', 'DejaVu Sans', sans-serif" font-size="21.8" font-weight="bold" fill="#000" text-anchor="start" textLength="198.8" lengthAdjust="spacingAndGlyphs">Industry EBIT, %</text><polygon points="321,1980.6 321,1980.60 573.5,1980.60 826,1904.44 1078.5,1763.65 1331,1678.25 1331,1980.6" fill="#a3d8f2"/><text x="173.4" y="1988.40" font-family="'DejaVu Sans', sans-serif" font-size="21.4" font-weight="bold" fill="#000" text-anchor="end" textLength="40.2" lengthAdjust="spacingAndGlyphs">0%</text><line x1="194.7" y1="1923.5" x2="1456.7" y2="1923.5" stroke="#69a8d2" stroke-width="1"/><text x="173.4" y="1930.70" font-family="'DejaVu Sans', sans-serif" font-size="21.4" font-weight="bold" fill="#000" text-anchor="end" textLength="54.8" lengthAdjust="spacingAndGlyphs">10%</text><line x1="194.7" y1="1865.5" x2="1456.7" y2="1865.5" stroke="#69a8d2" stroke-width="1"/><text x="173.4" y="1873.00" font-family="'DejaVu Sans', sans-serif" font-size="21.4" font-weight="bold" fill="#000" text-anchor="end" textLength="54.8" lengthAdjust="spacingAndGlyphs">20%</text><line x1="194.7" y1="1807.5" x2="1456.7" y2="1807.5" stroke="#69a8d2" stroke-width="1"/><text x="173.4" y="1815.30" font-family="'DejaVu Sans', sans-serif" font-size="21.4" font-weight="bold" fill="#000" text-anchor="end" textLength="54.8" lengthAdjust="spacingAndGlyphs">30%</text><line x1="194.7" y1="1750.5" x2="1456.7" y2="1750.5" stroke="#69a8d2" stroke-width="1"/><text x="173.4" y="1757.60" font-family="'DejaVu Sans', sans-serif" font-size="21.4" font-weight="bold" fill="#000" text-anchor="end" textLength="54.8" lengthAdjust="spacingAndGlyphs">40%</text><line x1="194.7" y1="1692.5" x2="1456.7" y2="1692.5" stroke="#69a8d2" stroke-width="1"/><text x="173.4" y="1699.90" font-family="'DejaVu Sans', sans-serif" font-size="21.4" font-weight="bold" fill="#000" text-anchor="end" textLength="54.8" lengthAdjust="spacingAndGlyphs">50%</text><line x1="194.7" y1="1634.5" x2="1456.7" y2="1634.5" stroke="#69a8d2" stroke-width="1"/><text x="173.4" y="1642.20" font-family="'DejaVu Sans', sans-serif" font-size="21.4" font-weight="bold" fill="#000" text-anchor="end" textLength="54.8" lengthAdjust="spacingAndGlyphs">60%</text><polyline points="321,1980.60 573.5,1980.60 826,1904.44 1078.5,1763.65 1331,1678.25" fill="none" stroke="#4ab1e8" stroke-width="6.0" stroke-linejoin="round" stroke-linecap="round"/><circle cx="321" cy="1980.60" r="7.4" fill="#4ab1e8"/><circle cx="573.5" cy="1980.60" r="7.4" fill="#4ab1e8"/><circle cx="826" cy="1904.44" r="7.4" fill="#4ab1e8"/><circle cx="1078.5" cy="1763.65" r="7.4" fill="#4ab1e8"/><circle cx="1331" cy="1678.25" r="7.4" fill="#4ab1e8"/><line x1="321" y1="1894.05" x2="573.5" y2="1894.05" stroke="#ed7d31" stroke-width="6.0" stroke-dasharray="18 26" stroke-dashoffset="-3" stroke-linecap="round"/><line x1="573.5" y1="1894.05" x2="826" y2="1894.05" stroke="#ed7d31" stroke-width="6.0" stroke-dasharray="18 26" stroke-dashoffset="-3" stroke-linecap="round"/><line x1="826" y1="1894.05" x2="1078.5" y2="1894.05" stroke="#ed7d31" stroke-width="6.0" stroke-dasharray="18 26" stroke-dashoffset="-3" stroke-linecap="round"/><line x1="1078.5" y1="1894.05" x2="1331" y2="1894.05" stroke="#ed7d31" stroke-width="6.0" stroke-dasharray="18 26" stroke-dashoffset="-3" stroke-linecap="round"/><circle cx="321" cy="1894.05" r="7.5" fill="#ed7d31"/><circle cx="573.5" cy="1894.05" r="7.5" fill="#ed7d31"/><circle cx="826" cy="1894.05" r="7.5" fill="#ed7d31"/><circle cx="1078.5" cy="1894.05" r="7.5" fill="#ed7d31"/><circle cx="1331" cy="1894.05" r="7.5" fill="#ed7d31"/><rect x="1508" y="1512.1" width="1314.6" height="39.5" fill="#4b50d2"/><text x="2165.3" y="1541.6499999999999" font-family="'DejaVu Sans Condensed', 'DejaVu Sans', sans-serif" font-size="27.2" font-weight="bold" fill="#ffffff" text-anchor="middle" textLength="325.2" lengthAdjust="spacingAndGlyphs">Net Profit After Tax, %</text><line x1="1700.3" y1="1580.8" x2="1771.3" y2="1580.8" stroke="#4ab1e8" stroke-width="5.5" stroke-linecap="round"/><circle cx="1735.1" cy="1580.8" r="6" fill="#4ab1e8"/><text x="1778.7" y="1588.1" font-family="'DejaVu Sans Condensed', 'DejaVu Sans', sans-serif" font-size="21.8" font-weight="bold" fill="#000" text-anchor="start" textLength="259.5" lengthAdjust="spacingAndGlyphs">Net Profit After Tax, %</text><line x1="2205.2000000000003" y1="1580.8" x2="2224.0" y2="1580.8" stroke="#ed7d31" stroke-width="5.5" stroke-linecap="round"/><line x1="2249.9" y1="1580.8" x2="2268.2" y2="1580.8" stroke="#ed7d31" stroke-width="5.5" stroke-linecap="round"/><circle cx="2240.0" cy="1580.8" r="6.4" fill="#ed7d31"/><text x="2283.5" y="1588.1" font-family="'DejaVu Sans Condensed', 'DejaVu Sans', sans-serif" font-size="21.8" font-weight="bold" fill="#000" text-anchor="start" textLength="363.8" lengthAdjust="spacingAndGlyphs">Industry Net Profit After Tax, %</text><polygon points="1736,1980.1 1736,1980.10 1977.3,1980.10 2218.6,1907.78 2459.4,1764.69 2700.5,1678.52 2700.5,1980.1" fill="#a3d8f2"/><text x="1594.6" y="1987.90" font-family="'DejaVu Sans', sans-serif" font-size="21.4" font-weight="bold" fill="#000" text-anchor="end" textLength="40.2" lengthAdjust="spacingAndGlyphs">0%</text><line x1="1615.5" y1="1941.5" x2="2821.5" y2="1941.5" stroke="#69a8d2" stroke-width="1"/><text x="1594.6" y="1949.43" font-family="'DejaVu Sans', sans-serif" font-size="21.4" font-weight="bold" fill="#000" text-anchor="end" textLength="40.2" lengthAdjust="spacingAndGlyphs">5%</text><line x1="1615.5" y1="1903.5" x2="2821.5" y2="1903.5" stroke="#69a8d2" stroke-width="1"/><text x="1594.6" y="1910.97" font-family="'DejaVu Sans', sans-serif" font-size="21.4" font-weight="bold" fill="#000" text-anchor="end" textLength="54.8" lengthAdjust="spacingAndGlyphs">10%</text><line x1="1615.5" y1="1865.5" x2="2821.5" y2="1865.5" stroke="#69a8d2" stroke-width="1"/><text x="1594.6" y="1872.50" font-family="'DejaVu Sans', sans-serif" font-size="21.4" font-weight="bold" fill="#000" text-anchor="end" textLength="54.8" lengthAdjust="spacingAndGlyphs">15%</text><line x1="1615.5" y1="1826.5" x2="2821.5" y2="1826.5" stroke="#69a8d2" stroke-width="1"/><text x="1594.6" y="1834.03" font-family="'DejaVu Sans', sans-serif" font-size="21.4" font-weight="bold" fill="#000" text-anchor="end" textLength="54.8" lengthAdjust="spacingAndGlyphs">20%</text><line x1="1615.5" y1="1788.5" x2="2821.5" y2="1788.5" stroke="#69a8d2" stroke-width="1"/><text x="1594.6" y="1795.57" font-family="'DejaVu Sans', sans-serif" font-size="21.4" font-weight="bold" fill="#000" text-anchor="end" textLength="54.8" lengthAdjust="spacingAndGlyphs">25%</text><line x1="1615.5" y1="1749.5" x2="2821.5" y2="1749.5" stroke="#69a8d2" stroke-width="1"/><text x="1594.6" y="1757.10" font-family="'DejaVu Sans', sans-serif" font-size="21.4" font-weight="bold" fill="#000" text-anchor="end" textLength="54.8" lengthAdjust="spacingAndGlyphs">30%</text><line x1="1615.5" y1="1711.5" x2="2821.5" y2="1711.5" stroke="#69a8d2" stroke-width="1"/><text x="1594.6" y="1718.63" font-family="'DejaVu Sans', sans-serif" font-size="21.4" font-weight="bold" fill="#000" text-anchor="end" textLength="54.8" lengthAdjust="spacingAndGlyphs">35%</text><line x1="1615.5" y1="1672.5" x2="2821.5" y2="1672.5" stroke="#69a8d2" stroke-width="1"/><text x="1594.6" y="1680.17" font-family="'DejaVu Sans', sans-serif" font-size="21.4" font-weight="bold" fill="#000" text-anchor="end" textLength="54.8" lengthAdjust="spacingAndGlyphs">40%</text><line x1="1615.5" y1="1634.5" x2="2821.5" y2="1634.5" stroke="#69a8d2" stroke-width="1"/><text x="1594.6" y="1641.70" font-family="'DejaVu Sans', sans-serif" font-size="21.4" font-weight="bold" fill="#000" text-anchor="end" textLength="54.8" lengthAdjust="spacingAndGlyphs">45%</text><polyline points="1736,1980.10 1977.3,1980.10 2218.6,1907.78 2459.4,1764.69 2700.5,1678.52" fill="none" stroke="#4ab1e8" stroke-width="6.0" stroke-linejoin="round" stroke-linecap="round"/><circle cx="1736" cy="1980.10" r="7.4" fill="#4ab1e8"/><circle cx="1977.3" cy="1980.10" r="7.4" fill="#4ab1e8"/><circle cx="2218.6" cy="1907.78" r="7.4" fill="#4ab1e8"/><circle cx="2459.4" cy="1764.69" r="7.4" fill="#4ab1e8"/><circle cx="2700.5" cy="1678.52" r="7.4" fill="#4ab1e8"/><line x1="1736" y1="1903.17" x2="1977.3" y2="1903.17" stroke="#ed7d31" stroke-width="6.0" stroke-dasharray="18 26" stroke-dashoffset="-3" stroke-linecap="round"/><line x1="1977.3" y1="1903.17" x2="2218.6" y2="1903.17" stroke="#ed7d31" stroke-width="6.0" stroke-dasharray="18 26" stroke-dashoffset="-3" stroke-linecap="round"/><line x1="2218.6" y1="1903.17" x2="2459.4" y2="1903.17" stroke="#ed7d31" stroke-width="6.0" stroke-dasharray="18 26" stroke-dashoffset="-3" stroke-linecap="round"/><line x1="2459.4" y1="1903.17" x2="2700.5" y2="1903.17" stroke="#ed7d31" stroke-width="6.0" stroke-dasharray="18 26" stroke-dashoffset="-3" stroke-linecap="round"/><circle cx="1736" cy="1903.17" r="7.5" fill="#ed7d31"/><circle cx="1977.3" cy="1903.17" r="7.5" fill="#ed7d31"/><circle cx="2218.6" cy="1903.17" r="7.5" fill="#ed7d31"/><circle cx="2459.4" cy="1903.17" r="7.5" fill="#ed7d31"/><circle cx="2700.5" cy="1903.17" r="7.5" fill="#ed7d31"/></svg><div class="b" style="left:2860px;top:278px;width:31px;height:1393px;background:#111111;"></div><div class="b" style="left:2863px;top:280px;width:25.5px;height:1389px;background:#161616;border-radius:13px"></div><svg class="b" style="left:2866px;top:282px;" width="20" height="16" viewBox="0 0 20 16"><path d="M10 3.5 L17 13 H3 Z" fill="#9a9a9a" stroke="#9a9a9a" stroke-width="1.5" stroke-linejoin="round"/></svg><div class="b" style="left:2870px;top:304px;width:12px;height:913px;background:#9b9b9b;border-radius:6px"></div><svg class="b" style="left:2866px;top:1651px;" width="20" height="16" viewBox="0 0 20 16"><path d="M10 12.5 L17 3 H3 Z" fill="#9a9a9a" stroke="#9a9a9a" stroke-width="1.5" stroke-linejoin="round"/></svg><div class="b" style="left:11px;top:1670px;width:2849px;height:48.5px;background:#0c0c0c;"></div><div class="b" style="left:1958px;top:1670px;width:78px;height:9px;background:#ffffff;"></div><div class="b" style="left:1965px;top:1670px;width:64px;height:41.7px;border-radius:0 0 6px 6px;background:linear-gradient(#ffffff 0%,#ffffff 40%,#d3e9f8 100%)"></div><div class="b" style="left:1950px;top:1670px;width:15px;height:48px;background:#0c0c0c;border-top-right-radius:7px"></div><div class="b" style="left:2029px;top:1670px;width:15px;height:48px;background:#0c0c0c;border-top-left-radius:7px"></div><div class="b" style="left:299px;top:1676px;width:127.69999999999999px;height:35.6px;background:#fcec6c;border-radius:6px"></div><div class="t c" style="left:362.85px;top:1685.77px;font-family:'Liberation Sans', Arial, sans-serif;font-size:19.8px;font-weight:normal;color:#161616;"><span>Dashboard</span></div><div class="b" style="left:439.8px;top:1676px;width:105.69999999999999px;height:35.6px;background:#fcec6c;border-radius:6px"></div><div class="t c" style="left:492.65px;top:1685.77px;font-family:'Liberation Sans', Arial, sans-serif;font-size:19.8px;font-weight:normal;color:#161616;"><span>Revenue</span></div><div class="b" style="left:559px;top:1676px;width:157.60000000000002px;height:35.6px;background:#fcec6c;border-radius:6px"></div><div class="t c" style="left:637.8px;top:1685.77px;font-family:'Liberation Sans', Arial, sans-serif;font-size:19.8px;font-weight:normal;color:#161616;"><span>COGS &amp; OPEX</span></div><div class="b" style="left:730.2px;top:1676px;width:88.59999999999991px;height:35.6px;background:#fcec6c;border-radius:6px"></div><div class="t c" style="left:774.5px;top:1685.77px;font-family:'Liberation Sans', Arial, sans-serif;font-size:19.8px;font-weight:normal;color:#161616;"><span>Payroll</span></div><div class="b" style="left:832.5px;top:1676px;width:86.29999999999995px;height:35.6px;background:#fcec6c;border-radius:6px"></div><div class="t c" style="left:875.65px;top:1685.77px;font-family:'Liberation Sans', Arial, sans-serif;font-size:19.8px;font-weight:normal;color:#161616;"><span>CAPEX</span></div><div class="b" style="left:932.5px;top:1676px;width:112.0px;height:35.6px;background:#fcec6c;border-radius:6px"></div><div class="t c" style="left:988.5px;top:1685.77px;font-family:'Liberation Sans', Arial, sans-serif;font-size:19.8px;font-weight:normal;color:#161616;"><span>CapTable</span></div><div class="b" style="left:1058px;top:1676px;width:89.40000000000009px;height:35.6px;background:#fcec6c;border-radius:6px"></div><div class="t c" style="left:1102.7px;top:1685.77px;font-family:'Liberation Sans', Arial, sans-serif;font-size:19.8px;font-weight:normal;color:#161616;"><span>Capital</span></div><div class="b" style="left:1161px;top:1676px;width:41.59999999999991px;height:35.6px;background:#4cb3e8;border-radius:6px"></div><div class="t c" style="left:1181.8px;top:1685.77px;font-family:'Liberation Sans', Arial, sans-serif;font-size:19.8px;font-weight:normal;color:#161616;"><span>IS</span></div><div class="b" style="left:1216px;top:1676px;width:47.59999999999991px;height:35.6px;background:#4cb3e8;border-radius:6px"></div><div class="t c" style="left:1239.8px;top:1685.77px;font-family:'Liberation Sans', Arial, sans-serif;font-size:19.8px;font-weight:normal;color:#161616;"><span>CF</span></div><div class="b" style="left:1277.3px;top:1676px;width:47.40000000000009px;height:35.6px;background:#4cb3e8;border-radius:6px"></div><div class="t c" style="left:1301.0px;top:1685.77px;font-family:'Liberation Sans', Arial, sans-serif;font-size:19.8px;font-weight:normal;color:#161616;"><span>BS</span></div><div class="b" style="left:1338px;top:1676px;width:114.59999999999991px;height:35.6px;background:#4cb3e8;border-radius:6px"></div><div class="t c" style="left:1395.3px;top:1685.77px;font-family:'Liberation Sans', Arial, sans-serif;font-size:19.8px;font-weight:normal;color:#161616;"><span>Scenarios</span></div><div class="b" style="left:1466px;top:1676px;width:114.79999999999995px;height:35.6px;background:#4cb3e8;border-radius:6px"></div><div class="t c" style="left:1523.4px;top:1685.77px;font-family:'Liberation Sans', Arial, sans-serif;font-size:19.8px;font-weight:normal;color:#161616;"><span>Valuation</span></div><div class="b" style="left:1594px;top:1676px;width:113.79999999999995px;height:35.6px;background:#4cb3e8;border-radius:6px"></div><div class="t c" style="left:1650.9px;top:1685.77px;font-family:'Liberation Sans', Arial, sans-serif;font-size:19.8px;font-weight:normal;color:#161616;"><span>Summary</span></div><div class="b" style="left:1721px;top:1676px;width:47.5px;height:35.6px;background:#4cb3e8;border-radius:6px"></div><div class="t c" style="left:1744.75px;top:1685.77px;font-family:'Liberation Sans', Arial, sans-serif;font-size:19.8px;font-weight:normal;color:#161616;"><span>BE</span></div><div class="b" style="left:1782px;top:1676px;width:71.59999999999991px;height:35.6px;background:#4cb3e8;border-radius:6px"></div><div class="t c" style="left:1817.8px;top:1685.77px;font-family:'Liberation Sans', Arial, sans-serif;font-size:19.8px;font-weight:normal;color:#161616;"><span>ROIC</span></div><div class="b" style="left:1867.2px;top:1676px;width:84.39999999999986px;height:35.6px;background:#4cb3e8;border-radius:6px"></div><div class="t c" style="left:1909.4px;top:1685.77px;font-family:'Liberation Sans', Arial, sans-serif;font-size:19.8px;font-weight:normal;color:#161616;"><span>Charts</span></div><div class="b" style="left:2042px;top:1676px;width:30px;height:35.6px;overflow:hidden;border-radius:6px 0 0 6px;background:#4cb3e8"><div class="t" style="left:9px;top:9.77px;font-family:'Liberation Sans', Arial, sans-serif;font-size:19.8px;color:#161616"><span>Scenarios</span></div></div><div class="t" style="left:189.8px;top:1685.34px;font-family:'Liberation Sans', Arial, sans-serif;font-size:20.3px;font-weight:normal;color:#f2f2f2;letter-spacing:0.13px;"><span>Contents</span></div><div class="t c" style="left:1997px;top:1681.07px;font-family:'Liberation Sans', Arial, sans-serif;font-size:19.8px;font-weight:normal;color:#161616;"><span>KPIs</span></div><div class="b" style="left:1977px;top:1705.2px;width:40px;height:2.8px;background:#1b7a43;"></div><div class="b" style="left:292.0px;top:1680px;width:1.3px;height:27.6px;background:#5c5c5c;"></div><div class="b" style="left:432.4px;top:1680px;width:1.3px;height:27.6px;background:#5c5c5c;"></div><div class="b" style="left:552.0px;top:1680px;width:1.3px;height:27.6px;background:#5c5c5c;"></div><div class="b" style="left:723.4px;top:1680px;width:1.3px;height:27.6px;background:#5c5c5c;"></div><div class="b" style="left:824.4px;top:1680px;width:1.3px;height:27.6px;background:#5c5c5c;"></div><div class="b" style="left:924.4px;top:1680px;width:1.3px;height:27.6px;background:#5c5c5c;"></div><div class="b" style="left:1051.0px;top:1680px;width:1.3px;height:27.6px;background:#5c5c5c;"></div><div class="b" style="left:1153.4px;top:1680px;width:1.3px;height:27.6px;background:#5c5c5c;"></div><div class="b" style="left:1208.4px;top:1680px;width:1.3px;height:27.6px;background:#5c5c5c;"></div><div class="b" style="left:1270.2px;top:1680px;width:1.3px;height:27.6px;background:#5c5c5c;"></div><div class="b" style="left:1330.4px;top:1680px;width:1.3px;height:27.6px;background:#5c5c5c;"></div><div class="b" style="left:1459.1000000000001px;top:1680px;width:1.3px;height:27.6px;background:#5c5c5c;"></div><div class="b" style="left:1587.4px;top:1680px;width:1.3px;height:27.6px;background:#5c5c5c;"></div><div class="b" style="left:1714.0px;top:1680px;width:1.3px;height:27.6px;background:#5c5c5c;"></div><div class="b" style="left:1775.0px;top:1680px;width:1.3px;height:27.6px;background:#5c5c5c;"></div><div class="b" style="left:1860.1000000000001px;top:1680px;width:1.3px;height:27.6px;background:#5c5c5c;"></div><div class="b" style="left:1957.8000000000002px;top:1680px;width:1.3px;height:27.6px;background:#5c5c5c;"></div><div class="b" style="left:2034.6000000000001px;top:1680px;width:1.3px;height:27.6px;background:#5c5c5c;"></div><svg class="b" style="left:44px;top:1684px;" width="14" height="18" viewBox="0 0 14 18"><polyline points="10,2 3.5,9 10,16" fill="none" stroke="#8a8a8a" stroke-width="1.5"/></svg><svg class="b" style="left:92px;top:1684px;" width="14" height="18" viewBox="0 0 14 18"><polyline points="3.5,2 10,9 3.5,16" fill="none" stroke="#cfcfcf" stroke-width="1.5"/></svg><svg class="b" style="left:2084px;top:1688px;" width="22" height="10" viewBox="0 0 22 10"><circle cx="4.5" cy="4.7" r="2.4" fill="#e6e6e6"/><circle cx="11" cy="4.7" r="2.4" fill="#e6e6e6"/><circle cx="17.5" cy="4.7" r="2.4" fill="#e6e6e6"/></svg><svg class="b" style="left:2133px;top:1683px;" width="20" height="20" viewBox="0 0 20 20"><path d="M10 1.5 V18.5 M1.5 10 H18.5" stroke="#e6e6e6" stroke-width="1.5"/></svg><svg class="b" style="left:2186px;top:1683px;" width="12" height="22" viewBox="0 0 12 22"><rect x="4.4" y="2.6" width="3.2" height="3.2" fill="#e6e6e6"/><rect x="4.4" y="9" width="3.2" height="3.2" fill="#e6e6e6"/><rect x="4.4" y="15.4" width="3.2" height="3.2" fill="#e6e6e6"/></svg><div class="b" style="left:2216.6px;top:1680.8px;width:643px;height:25.2px;background:#171717;border-radius:13px"></div><svg class="b" style="left:2220px;top:1684px;" width="18" height="18" viewBox="0 0 18 18"><path d="M4.5 9 L14 2.8 V15.2 Z" fill="#9a9a9a" stroke="#9a9a9a" stroke-width="1.3" stroke-linejoin="round"/></svg><div class="b" style="left:2241.7px;top:1687px;width:411.7px;height:11.8px;background:#9b9b9b;border-radius:6px"></div><svg class="b" style="left:2838px;top:1684px;" width="18" height="18" viewBox="0 0 18 18"><path d="M13.5 9 L4 2.8 V15.2 Z" fill="#9a9a9a" stroke="#9a9a9a" stroke-width="1.3" stroke-linejoin="round"/></svg><div class="b" style="left:11px;top:1718.3px;width:2880px;height:32.7px;background:#151515;"></div><div class="b" style="left:11px;top:1718px;width:2880px;height:1px;background:#2c2c2c;"></div><div class="t" style="left:27.0px;top:1728.82px;font-family:'Liberation Sans', Arial, sans-serif;font-size:14.8px;font-weight:normal;color:#e2e2e2;letter-spacing:-0.04px;"><span>Ready</span></div><svg class="b" style="left:96px;top:1724px;" width="28" height="24" viewBox="0 0 28 24"><rect x="4.5" y="3.400000000000091" width="19.6" height="15.2" fill="none" stroke="#e6e6e6" stroke-width="1.6"/>
<rect x="4.5" y="3.400000000000091" width="19.6" height="2.8" fill="#e6e6e6"/>
<path d="M6 9.400000000000091 H12 M6 12.700000000000045 H10.5 M6 16 H10.5" stroke="#e6e6e6" stroke-width="1.3"/>
<circle cx="17.799999999999997" cy="14.400000000000091" r="5.6" fill="#151515" stroke="#e6e6e6" stroke-width="1.6"/><circle cx="17.799999999999997" cy="14.400000000000091" r="3" fill="#e6e6e6"/></svg><svg class="b" style="left:143px;top:1722px;" width="28" height="28" viewBox="0 0 28 28"><circle cx="13" cy="5.599999999999909" r="2.5" fill="none" stroke="#ececec" stroke-width="1.6"/>
<path d="M4.5 7.7999999999999545 Q9 11.200000000000045 13 10.799999999999955 Q17 11.200000000000045 21.5 7.7999999999999545 M13 10.799999999999955 V16 L8.599999999999994 22.59999999999991" fill="none" stroke="#ececec" stroke-width="2.2" stroke-linecap="round" stroke-linejoin="round"/>
<path d="M16.599999999999994 15.799999999999955 L23.80000000000001 23 M23.80000000000001 15.799999999999955 L16.599999999999994 23" stroke="#ececec" stroke-width="1.5"/></svg><div class="t" style="left:173.0px;top:1728.06px;font-family:'Liberation Sans', Arial, sans-serif;font-size:15.7px;font-weight:bold;color:#f0f0f0;letter-spacing:0.01px;"><span>Accessibility: Investigate</span></div><div class="b" style="left:2445px;top:1719px;width:59.7px;height:31.6px;background:#2a2a2a;"></div><svg class="b" style="left:2462px;top:1724px;" width="24" height="22" viewBox="0 0 24 22"><rect x="2.5" y="2.5" width="18.5" height="17" fill="none" stroke="#f0f0f0" stroke-width="1.6"/>
<path d="M8.7 2.5 V19.5 M14.8 2.5 V19.5 M2.5 8.2 H21 M2.5 13.8 H21" stroke="#f0f0f0" stroke-width="1.5"/></svg><svg class="b" style="left:2522px;top:1723px;" width="26" height="24" viewBox="0 0 26 24"><rect x="2.5" y="2.5" width="20" height="18.5" fill="none" stroke="#e6e6e6" stroke-width="1.6"/>
<rect x="6.5" y="5.8" width="12" height="12" fill="none" stroke="#e6e6e6" stroke-width="1.4"/>
<path d="M9 9.5 H16 M9 12 H16 M9 14.5 H16" stroke="#e6e6e6" stroke-width="1.2"/></svg><svg class="b" style="left:2582px;top:1723px;" width="26" height="24" viewBox="0 0 26 24"><rect x="2.5" y="2.5" width="20" height="18.5" fill="none" stroke="#e6e6e6" stroke-width="1.6"/>
<path d="M8 2.5 V11 H16.5 V2.5" fill="none" stroke="#e6e6e6" stroke-width="1.5"/></svg><div class="b" style="left:2632px;top:1734.8px;width:11.5px;height:1.5px;background:#d6d6d6;"></div><div class="b" style="left:2653px;top:1735px;width:147.4px;height:1.5px;background:#8e8e8e;"></div><div class="b" style="left:2726px;top:1730.5px;width:1.5px;height:10px;background:#bdbdbd;"></div><div class="b" style="left:2733px;top:1727px;width:8px;height:17.5px;background:#a6a6a6;border-radius:1.5px"></div><svg class="b" style="left:2806px;top:1727px;" width="17" height="17" viewBox="0 0 17 17"><path d="M8.5 1.5 V15.5 M1.5 8.5 H15.5" stroke="#dedede" stroke-width="1.5"/></svg><div class="t" style="left:2840.0px;top:1728.59px;font-family:'Liberation Sans', Arial, sans-serif;font-size:15.3px;font-weight:normal;color:#e8e8e8;letter-spacing:-0.12px;"><span>140%</span></div>
</body></html>
